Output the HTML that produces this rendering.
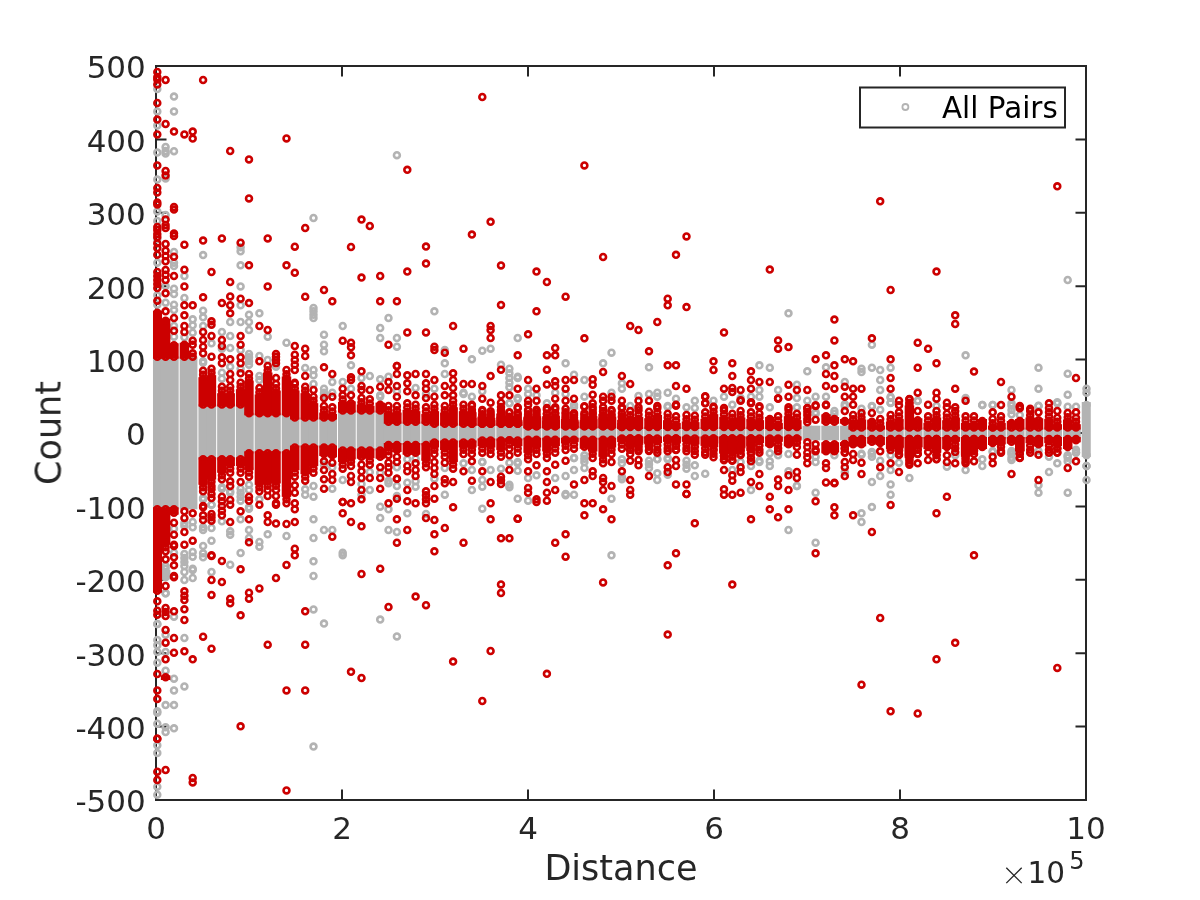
<!DOCTYPE html>
<html><head><meta charset="utf-8"><title>Count vs Distance</title>
<style>html,body{margin:0;padding:0;background:#fff}svg{display:block}</style>
</head><body>
<svg width="1200" height="900" viewBox="0 0 1200 900">
<defs><filter id="soft" x="0" y="0" width="1200" height="900" filterUnits="userSpaceOnUse"><feGaussianBlur stdDeviation="0.55"/></filter></defs>
<rect width="1200" height="900" fill="#fff"/>
<g filter="url(#soft)">
<!-- axes frame (under data) -->
<rect x="156.0" y="66.0" width="930.0" height="734.0" fill="none" stroke="#262626" stroke-width="2"/>
<path d="M156.0 800.0v-10.5M156.0 66.0v10.5" stroke="#262626" stroke-width="2" fill="none"/>
<path d="M342.0 800.0v-10.5M342.0 66.0v10.5" stroke="#262626" stroke-width="2" fill="none"/>
<path d="M528.0 800.0v-10.5M528.0 66.0v10.5" stroke="#262626" stroke-width="2" fill="none"/>
<path d="M714.0 800.0v-10.5M714.0 66.0v10.5" stroke="#262626" stroke-width="2" fill="none"/>
<path d="M900.0 800.0v-10.5M900.0 66.0v10.5" stroke="#262626" stroke-width="2" fill="none"/>
<path d="M1086.0 800.0v-10.5M1086.0 66.0v10.5" stroke="#262626" stroke-width="2" fill="none"/>
<path d="M156.0 800.0h10.5M1086.0 800.0h-10.5" stroke="#262626" stroke-width="2" fill="none"/>
<path d="M156.0 726.6h10.5M1086.0 726.6h-10.5" stroke="#262626" stroke-width="2" fill="none"/>
<path d="M156.0 653.2h10.5M1086.0 653.2h-10.5" stroke="#262626" stroke-width="2" fill="none"/>
<path d="M156.0 579.8h10.5M1086.0 579.8h-10.5" stroke="#262626" stroke-width="2" fill="none"/>
<path d="M156.0 506.4h10.5M1086.0 506.4h-10.5" stroke="#262626" stroke-width="2" fill="none"/>
<path d="M156.0 433.0h10.5M1086.0 433.0h-10.5" stroke="#262626" stroke-width="2" fill="none"/>
<path d="M156.0 359.6h10.5M1086.0 359.6h-10.5" stroke="#262626" stroke-width="2" fill="none"/>
<path d="M156.0 286.2h10.5M1086.0 286.2h-10.5" stroke="#262626" stroke-width="2" fill="none"/>
<path d="M156.0 212.8h10.5M1086.0 212.8h-10.5" stroke="#262626" stroke-width="2" fill="none"/>
<path d="M156.0 139.4h10.5M1086.0 139.4h-10.5" stroke="#262626" stroke-width="2" fill="none"/>
<path d="M156.0 66.0h10.5M1086.0 66.0h-10.5" stroke="#262626" stroke-width="2" fill="none"/>
<!-- data -->
<g><rect x="152.99" y="356.70" width="9.07" height="152.60" fill="#B3B3B3"/><rect x="160.86" y="356.70" width="9.53" height="152.60" fill="#B3B3B3"/><rect x="169.19" y="356.70" width="9.47" height="152.60" fill="#B3B3B3"/><rect x="179.67" y="356.70" width="9.47" height="152.60" fill="#B3B3B3"/><rect x="187.94" y="356.70" width="9.47" height="152.60" fill="#B3B3B3"/><rect x="198.42" y="404.50" width="9.47" height="54.80" fill="#B3B3B3"/><rect x="206.69" y="404.50" width="9.47" height="54.80" fill="#B3B3B3"/><rect x="217.17" y="404.50" width="9.47" height="54.80" fill="#B3B3B3"/><rect x="225.44" y="404.50" width="9.47" height="54.80" fill="#B3B3B3"/><rect x="235.92" y="404.50" width="9.47" height="54.80" fill="#B3B3B3"/><rect x="244.19" y="413.30" width="9.47" height="40.00" fill="#B3B3B3"/><rect x="254.67" y="413.30" width="9.48" height="40.00" fill="#B3B3B3"/><rect x="262.94" y="413.30" width="9.53" height="40.00" fill="#B3B3B3"/><rect x="271.27" y="413.30" width="9.48" height="40.00" fill="#B3B3B3"/><rect x="281.75" y="413.30" width="9.48" height="40.00" fill="#B3B3B3"/><rect x="290.02" y="417.50" width="9.48" height="30.00" fill="#B3B3B3"/><rect x="300.50" y="417.50" width="9.48" height="30.00" fill="#B3B3B3"/><rect x="308.77" y="417.50" width="9.48" height="30.00" fill="#B3B3B3"/><rect x="319.25" y="417.50" width="9.48" height="30.00" fill="#B3B3B3"/><rect x="327.52" y="417.50" width="9.48" height="30.00" fill="#B3B3B3"/><rect x="338.00" y="410.50" width="9.48" height="40.00" fill="#B3B3B3"/><rect x="346.27" y="410.50" width="9.48" height="40.00" fill="#B3B3B3"/><rect x="356.75" y="410.50" width="9.48" height="40.00" fill="#B3B3B3"/><rect x="365.02" y="410.50" width="9.48" height="40.00" fill="#B3B3B3"/><rect x="375.50" y="410.50" width="9.48" height="40.00" fill="#B3B3B3"/><rect x="383.77" y="421.70" width="9.53" height="23.30" fill="#B3B3B3"/><rect x="392.11" y="421.70" width="9.48" height="23.30" fill="#B3B3B3"/><rect x="402.58" y="421.70" width="9.48" height="23.30" fill="#B3B3B3"/><rect x="410.86" y="421.70" width="9.48" height="23.30" fill="#B3B3B3"/><rect x="421.33" y="421.70" width="9.48" height="23.30" fill="#B3B3B3"/><rect x="429.61" y="423.70" width="9.48" height="18.80" fill="#B3B3B3"/><rect x="440.08" y="423.70" width="9.48" height="18.80" fill="#B3B3B3"/><rect x="448.36" y="423.70" width="9.48" height="18.80" fill="#B3B3B3"/><rect x="458.83" y="423.70" width="9.48" height="18.80" fill="#B3B3B3"/><rect x="467.11" y="423.70" width="9.48" height="18.80" fill="#B3B3B3"/><rect x="477.58" y="423.70" width="9.48" height="16.80" fill="#B3B3B3"/><rect x="485.86" y="423.70" width="9.48" height="16.80" fill="#B3B3B3"/><rect x="496.33" y="423.70" width="9.48" height="16.80" fill="#B3B3B3"/><rect x="504.61" y="423.70" width="9.53" height="16.80" fill="#B3B3B3"/><rect x="512.94" y="423.70" width="9.48" height="16.80" fill="#B3B3B3"/><rect x="523.42" y="426.30" width="9.48" height="13.40" fill="#B3B3B3"/><rect x="531.69" y="426.30" width="9.48" height="13.40" fill="#B3B3B3"/><rect x="542.17" y="426.30" width="9.48" height="13.40" fill="#B3B3B3"/><rect x="550.44" y="426.30" width="9.48" height="13.40" fill="#B3B3B3"/><rect x="560.92" y="426.30" width="9.48" height="13.40" fill="#B3B3B3"/><rect x="569.19" y="426.30" width="9.48" height="13.40" fill="#B3B3B3"/><rect x="579.67" y="426.30" width="9.48" height="13.40" fill="#B3B3B3"/><rect x="587.94" y="426.30" width="9.48" height="13.40" fill="#B3B3B3"/><rect x="598.42" y="426.30" width="9.48" height="13.40" fill="#B3B3B3"/><rect x="606.69" y="426.30" width="9.48" height="13.40" fill="#B3B3B3"/><rect x="617.17" y="427.00" width="9.48" height="11.50" fill="#B3B3B3"/><rect x="625.44" y="427.00" width="9.53" height="11.50" fill="#B3B3B3"/><rect x="633.77" y="427.00" width="9.48" height="11.50" fill="#B3B3B3"/><rect x="644.25" y="427.00" width="9.48" height="11.50" fill="#B3B3B3"/><rect x="652.52" y="427.00" width="9.48" height="11.50" fill="#B3B3B3"/><rect x="663.00" y="427.00" width="9.48" height="11.50" fill="#B3B3B3"/><rect x="671.27" y="427.00" width="9.48" height="11.50" fill="#B3B3B3"/><rect x="681.75" y="427.00" width="9.48" height="11.50" fill="#B3B3B3"/><rect x="690.02" y="427.00" width="9.48" height="11.50" fill="#B3B3B3"/><rect x="700.50" y="427.00" width="9.48" height="11.50" fill="#B3B3B3"/><rect x="708.77" y="427.00" width="9.48" height="11.50" fill="#B3B3B3"/><rect x="719.25" y="427.00" width="9.48" height="11.50" fill="#B3B3B3"/><rect x="727.52" y="427.00" width="9.53" height="11.50" fill="#B3B3B3"/><rect x="735.86" y="427.00" width="9.48" height="11.50" fill="#B3B3B3"/><rect x="746.33" y="427.00" width="9.48" height="11.50" fill="#B3B3B3"/><rect x="754.61" y="427.00" width="9.48" height="11.50" fill="#B3B3B3"/><rect x="765.08" y="427.00" width="9.48" height="11.50" fill="#B3B3B3"/><rect x="773.36" y="427.00" width="9.48" height="11.50" fill="#B3B3B3"/><rect x="783.83" y="427.00" width="9.48" height="11.50" fill="#B3B3B3"/><rect x="792.11" y="427.00" width="9.48" height="11.50" fill="#B3B3B3"/><rect x="802.58" y="425.70" width="9.48" height="14.60" fill="#B3B3B3"/><rect x="810.86" y="425.70" width="9.48" height="14.60" fill="#B3B3B3"/><rect x="821.33" y="425.70" width="9.48" height="14.60" fill="#B3B3B3"/><rect x="829.61" y="425.70" width="9.48" height="14.60" fill="#B3B3B3"/><rect x="840.08" y="425.70" width="9.48" height="14.60" fill="#B3B3B3"/><rect x="848.36" y="427.60" width="9.53" height="11.40" fill="#B3B3B3"/><rect x="856.69" y="427.60" width="9.48" height="11.40" fill="#B3B3B3"/><rect x="867.17" y="427.60" width="9.48" height="11.40" fill="#B3B3B3"/><rect x="875.44" y="427.60" width="9.48" height="11.40" fill="#B3B3B3"/><rect x="885.92" y="427.60" width="9.48" height="11.40" fill="#B3B3B3"/><rect x="894.19" y="427.60" width="9.48" height="11.40" fill="#B3B3B3"/><rect x="904.67" y="427.60" width="9.48" height="11.40" fill="#B3B3B3"/><rect x="912.94" y="427.60" width="9.48" height="11.40" fill="#B3B3B3"/><rect x="923.42" y="427.60" width="9.48" height="11.40" fill="#B3B3B3"/><rect x="931.69" y="427.60" width="9.48" height="11.40" fill="#B3B3B3"/><rect x="942.17" y="427.60" width="9.48" height="11.40" fill="#B3B3B3"/><rect x="950.44" y="427.60" width="9.48" height="11.40" fill="#B3B3B3"/><rect x="960.92" y="427.60" width="9.48" height="11.40" fill="#B3B3B3"/><rect x="969.19" y="427.60" width="9.53" height="11.40" fill="#B3B3B3"/><rect x="977.52" y="427.60" width="9.48" height="11.40" fill="#B3B3B3"/><rect x="988.00" y="427.60" width="9.48" height="11.40" fill="#B3B3B3"/><rect x="996.27" y="427.60" width="9.48" height="11.40" fill="#B3B3B3"/><rect x="1006.75" y="427.60" width="9.48" height="11.40" fill="#B3B3B3"/><rect x="1015.02" y="427.60" width="9.48" height="11.40" fill="#B3B3B3"/><rect x="1025.50" y="427.60" width="9.47" height="11.40" fill="#B3B3B3"/><rect x="1033.78" y="427.60" width="9.47" height="11.40" fill="#B3B3B3"/><rect x="1044.25" y="427.60" width="9.47" height="11.40" fill="#B3B3B3"/><rect x="1052.53" y="427.60" width="9.47" height="11.40" fill="#B3B3B3"/><rect x="1063.00" y="427.60" width="9.47" height="11.40" fill="#B3B3B3"/><rect x="1071.28" y="427.60" width="9.47" height="11.40" fill="#B3B3B3"/><rect x="1081.75" y="402.00" width="9.01" height="55.00" fill="#B3B3B3"/><rect x="160.86" y="570.00" width="9.53" height="9.33" fill="#B3B3B3"/></g>
<g fill="none" stroke="#B3B3B3" stroke-width="2.6"><circle cx="157.3" cy="89.0" r="2.95"/><circle cx="157.3" cy="111.4" r="2.95"/><circle cx="157.3" cy="125.6" r="2.95"/><circle cx="157.3" cy="152.6" r="2.95"/><circle cx="157.3" cy="179.6" r="2.95"/><circle cx="157.3" cy="211.4" r="2.95"/><circle cx="157.3" cy="221.0" r="2.95"/><circle cx="157.3" cy="239.0" r="2.95"/><circle cx="165.6" cy="147.0" r="2.95"/><circle cx="165.6" cy="151.0" r="2.95"/><circle cx="165.6" cy="153.6" r="2.95"/><circle cx="165.6" cy="178.4" r="2.95"/><circle cx="165.6" cy="215.0" r="2.95"/><circle cx="174.0" cy="96.6" r="2.95"/><circle cx="174.0" cy="111.4" r="2.95"/><circle cx="174.0" cy="151.2" r="2.95"/><circle cx="313.5" cy="218.0" r="2.95"/><circle cx="396.9" cy="155.2" r="2.95"/><circle cx="157.3" cy="262.7" r="2.95"/><circle cx="157.3" cy="295.3" r="2.95"/><circle cx="157.3" cy="304.7" r="2.95"/><circle cx="165.6" cy="286.0" r="2.95"/><circle cx="165.6" cy="302.7" r="2.95"/><circle cx="174.0" cy="252.0" r="2.95"/><circle cx="174.0" cy="262.7" r="2.95"/><circle cx="174.0" cy="266.0" r="2.95"/><circle cx="174.0" cy="288.7" r="2.95"/><circle cx="174.0" cy="294.0" r="2.95"/><circle cx="174.0" cy="304.7" r="2.95"/><circle cx="174.0" cy="310.0" r="2.95"/><circle cx="174.0" cy="326.0" r="2.95"/><circle cx="174.0" cy="336.7" r="2.95"/><circle cx="184.4" cy="276.0" r="2.95"/><circle cx="184.4" cy="298.0" r="2.95"/><circle cx="184.4" cy="337.3" r="2.95"/><circle cx="192.7" cy="319.3" r="2.95"/><circle cx="192.7" cy="325.3" r="2.95"/><circle cx="192.7" cy="332.7" r="2.95"/><circle cx="203.1" cy="255.1" r="2.95"/><circle cx="203.1" cy="310.7" r="2.95"/><circle cx="203.1" cy="317.3" r="2.95"/><circle cx="203.1" cy="326.0" r="2.95"/><circle cx="211.5" cy="343.3" r="2.95"/><circle cx="221.9" cy="332.0" r="2.95"/><circle cx="221.9" cy="348.7" r="2.95"/><circle cx="230.2" cy="322.0" r="2.95"/><circle cx="230.2" cy="336.0" r="2.95"/><circle cx="230.2" cy="348.0" r="2.95"/><circle cx="240.6" cy="247.3" r="2.95"/><circle cx="240.6" cy="251.3" r="2.95"/><circle cx="240.6" cy="265.3" r="2.95"/><circle cx="240.6" cy="286.4" r="2.95"/><circle cx="240.6" cy="305.3" r="2.95"/><circle cx="240.6" cy="322.0" r="2.95"/><circle cx="249.0" cy="314.7" r="2.95"/><circle cx="249.0" cy="322.0" r="2.95"/><circle cx="249.0" cy="330.0" r="2.95"/><circle cx="259.4" cy="313.3" r="2.95"/><circle cx="267.7" cy="336.7" r="2.95"/><circle cx="286.5" cy="342.7" r="2.95"/><circle cx="230.2" cy="366.7" r="2.95"/><circle cx="240.6" cy="350.0" r="2.95"/><circle cx="240.6" cy="368.7" r="2.95"/><circle cx="249.0" cy="354.0" r="2.95"/><circle cx="249.0" cy="357.3" r="2.95"/><circle cx="249.0" cy="361.3" r="2.95"/><circle cx="249.0" cy="364.7" r="2.95"/><circle cx="259.4" cy="356.0" r="2.95"/><circle cx="267.7" cy="360.0" r="2.95"/><circle cx="276.0" cy="366.7" r="2.95"/><circle cx="305.2" cy="368.0" r="2.95"/><circle cx="174.0" cy="528.7" r="2.95"/><circle cx="174.0" cy="552.7" r="2.95"/><circle cx="192.7" cy="552.0" r="2.95"/><circle cx="192.7" cy="556.7" r="2.95"/><circle cx="192.7" cy="568.7" r="2.95"/><circle cx="203.1" cy="546.0" r="2.95"/><circle cx="203.1" cy="553.3" r="2.95"/><circle cx="203.1" cy="557.3" r="2.95"/><circle cx="211.5" cy="528.0" r="2.95"/><circle cx="211.5" cy="540.7" r="2.95"/><circle cx="221.9" cy="521.3" r="2.95"/><circle cx="230.2" cy="531.3" r="2.95"/><circle cx="230.2" cy="534.7" r="2.95"/><circle cx="230.2" cy="564.7" r="2.95"/><circle cx="240.6" cy="519.3" r="2.95"/><circle cx="240.6" cy="552.9" r="2.95"/><circle cx="249.0" cy="530.0" r="2.95"/><circle cx="249.0" cy="538.0" r="2.95"/><circle cx="259.4" cy="499.3" r="2.95"/><circle cx="259.4" cy="542.0" r="2.95"/><circle cx="259.4" cy="546.7" r="2.95"/><circle cx="267.7" cy="534.3" r="2.95"/><circle cx="286.5" cy="536.0" r="2.95"/><circle cx="305.2" cy="489.3" r="2.95"/><circle cx="305.2" cy="494.7" r="2.95"/><circle cx="313.5" cy="308.0" r="2.95"/><circle cx="313.5" cy="311.3" r="2.95"/><circle cx="313.5" cy="314.7" r="2.95"/><circle cx="313.5" cy="318.0" r="2.95"/><circle cx="313.5" cy="370.0" r="2.95"/><circle cx="313.5" cy="375.3" r="2.95"/><circle cx="313.5" cy="384.0" r="2.95"/><circle cx="324.0" cy="334.7" r="2.95"/><circle cx="324.0" cy="344.7" r="2.95"/><circle cx="324.0" cy="351.3" r="2.95"/><circle cx="324.0" cy="388.7" r="2.95"/><circle cx="332.3" cy="382.0" r="2.95"/><circle cx="332.3" cy="392.7" r="2.95"/><circle cx="342.7" cy="326.0" r="2.95"/><circle cx="342.7" cy="382.0" r="2.95"/><circle cx="351.0" cy="365.3" r="2.95"/><circle cx="351.0" cy="388.7" r="2.95"/><circle cx="361.5" cy="378.0" r="2.95"/><circle cx="369.8" cy="376.0" r="2.95"/><circle cx="380.2" cy="328.0" r="2.95"/><circle cx="380.2" cy="338.0" r="2.95"/><circle cx="380.2" cy="379.3" r="2.95"/><circle cx="388.5" cy="318.0" r="2.95"/><circle cx="388.5" cy="376.7" r="2.95"/><circle cx="396.9" cy="338.0" r="2.95"/><circle cx="396.9" cy="346.7" r="2.95"/><circle cx="396.9" cy="391.3" r="2.95"/><circle cx="415.6" cy="388.0" r="2.95"/><circle cx="426.0" cy="394.0" r="2.95"/><circle cx="434.4" cy="311.3" r="2.95"/><circle cx="434.4" cy="388.7" r="2.95"/><circle cx="444.8" cy="350.0" r="2.95"/><circle cx="444.8" cy="363.3" r="2.95"/><circle cx="444.8" cy="374.0" r="2.95"/><circle cx="471.9" cy="359.3" r="2.95"/><circle cx="471.9" cy="396.7" r="2.95"/><circle cx="482.3" cy="350.7" r="2.95"/><circle cx="482.3" cy="391.3" r="2.95"/><circle cx="490.6" cy="348.7" r="2.95"/><circle cx="501.0" cy="364.7" r="2.95"/><circle cx="517.7" cy="338.0" r="2.95"/><circle cx="528.1" cy="388.7" r="2.95"/><circle cx="528.1" cy="394.0" r="2.95"/><circle cx="536.5" cy="395.3" r="2.95"/><circle cx="546.9" cy="403.3" r="2.95"/><circle cx="555.2" cy="392.7" r="2.95"/><circle cx="565.6" cy="363.3" r="2.95"/><circle cx="565.6" cy="394.0" r="2.95"/><circle cx="574.0" cy="374.7" r="2.95"/><circle cx="584.4" cy="380.0" r="2.95"/><circle cx="584.4" cy="396.7" r="2.95"/><circle cx="603.1" cy="363.3" r="2.95"/><circle cx="611.5" cy="352.7" r="2.95"/><circle cx="611.5" cy="392.7" r="2.95"/><circle cx="621.9" cy="383.3" r="2.95"/><circle cx="621.9" cy="388.7" r="2.95"/><circle cx="630.2" cy="406.0" r="2.95"/><circle cx="638.5" cy="396.0" r="2.95"/><circle cx="649.0" cy="367.3" r="2.95"/><circle cx="649.0" cy="394.0" r="2.95"/><circle cx="657.3" cy="392.7" r="2.95"/><circle cx="657.3" cy="396.7" r="2.95"/><circle cx="667.7" cy="392.7" r="2.95"/><circle cx="667.7" cy="406.0" r="2.95"/><circle cx="676.0" cy="398.7" r="2.95"/><circle cx="686.5" cy="407.3" r="2.95"/><circle cx="694.8" cy="400.7" r="2.95"/><circle cx="694.8" cy="408.0" r="2.95"/><circle cx="713.5" cy="400.7" r="2.95"/><circle cx="724.0" cy="396.7" r="2.95"/><circle cx="732.3" cy="404.7" r="2.95"/><circle cx="740.6" cy="398.0" r="2.95"/><circle cx="751.0" cy="396.7" r="2.95"/><circle cx="759.4" cy="365.3" r="2.95"/><circle cx="759.4" cy="390.0" r="2.95"/><circle cx="759.4" cy="396.7" r="2.95"/><circle cx="769.8" cy="367.7" r="2.95"/><circle cx="769.8" cy="407.3" r="2.95"/><circle cx="778.1" cy="390.0" r="2.95"/><circle cx="788.5" cy="313.3" r="2.95"/><circle cx="796.9" cy="384.7" r="2.95"/><circle cx="796.9" cy="398.0" r="2.95"/><circle cx="796.9" cy="407.3" r="2.95"/><circle cx="807.3" cy="371.3" r="2.95"/><circle cx="807.3" cy="400.7" r="2.95"/><circle cx="815.6" cy="396.7" r="2.95"/><circle cx="826.0" cy="367.3" r="2.95"/><circle cx="826.0" cy="396.7" r="2.95"/><circle cx="844.8" cy="382.0" r="2.95"/><circle cx="844.8" cy="406.0" r="2.95"/><circle cx="861.5" cy="368.7" r="2.95"/><circle cx="861.5" cy="372.0" r="2.95"/><circle cx="861.5" cy="408.7" r="2.95"/><circle cx="871.9" cy="344.7" r="2.95"/><circle cx="871.9" cy="367.7" r="2.95"/><circle cx="871.9" cy="406.0" r="2.95"/><circle cx="880.2" cy="370.0" r="2.95"/><circle cx="880.2" cy="380.0" r="2.95"/><circle cx="880.2" cy="390.0" r="2.95"/><circle cx="890.6" cy="367.7" r="2.95"/><circle cx="890.6" cy="396.7" r="2.95"/><circle cx="890.6" cy="402.7" r="2.95"/><circle cx="917.7" cy="400.7" r="2.95"/><circle cx="936.5" cy="406.0" r="2.95"/><circle cx="965.6" cy="355.3" r="2.95"/><circle cx="965.6" cy="398.0" r="2.95"/><circle cx="982.3" cy="404.9" r="2.95"/><circle cx="992.7" cy="404.9" r="2.95"/><circle cx="1011.5" cy="390.0" r="2.95"/><circle cx="1011.5" cy="403.3" r="2.95"/><circle cx="1038.5" cy="367.7" r="2.95"/><circle cx="1038.5" cy="388.7" r="2.95"/><circle cx="1038.5" cy="406.0" r="2.95"/><circle cx="1057.3" cy="403.3" r="2.95"/><circle cx="1067.7" cy="373.7" r="2.95"/><circle cx="1067.7" cy="394.7" r="2.95"/><circle cx="1067.7" cy="406.7" r="2.95"/><circle cx="1076.0" cy="406.7" r="2.95"/><circle cx="1086.5" cy="388.7" r="2.95"/><circle cx="1086.5" cy="392.7" r="2.95"/><circle cx="1086.5" cy="404.9" r="2.95"/><circle cx="313.5" cy="486.0" r="2.95"/><circle cx="313.5" cy="496.7" r="2.95"/><circle cx="313.5" cy="519.3" r="2.95"/><circle cx="313.5" cy="538.0" r="2.95"/><circle cx="313.5" cy="561.3" r="2.95"/><circle cx="324.0" cy="464.7" r="2.95"/><circle cx="324.0" cy="530.0" r="2.95"/><circle cx="332.3" cy="467.3" r="2.95"/><circle cx="332.3" cy="488.7" r="2.95"/><circle cx="332.3" cy="530.0" r="2.95"/><circle cx="342.7" cy="480.0" r="2.95"/><circle cx="342.7" cy="552.7" r="2.95"/><circle cx="342.7" cy="555.3" r="2.95"/><circle cx="361.5" cy="484.0" r="2.95"/><circle cx="361.5" cy="494.7" r="2.95"/><circle cx="369.8" cy="472.0" r="2.95"/><circle cx="369.8" cy="490.0" r="2.95"/><circle cx="380.2" cy="472.7" r="2.95"/><circle cx="380.2" cy="506.7" r="2.95"/><circle cx="380.2" cy="518.0" r="2.95"/><circle cx="388.5" cy="509.3" r="2.95"/><circle cx="388.5" cy="530.0" r="2.95"/><circle cx="396.9" cy="467.3" r="2.95"/><circle cx="396.9" cy="486.0" r="2.95"/><circle cx="396.9" cy="496.0" r="2.95"/><circle cx="396.9" cy="532.0" r="2.95"/><circle cx="407.3" cy="459.3" r="2.95"/><circle cx="407.3" cy="482.7" r="2.95"/><circle cx="407.3" cy="513.3" r="2.95"/><circle cx="415.6" cy="458.7" r="2.95"/><circle cx="415.6" cy="481.3" r="2.95"/><circle cx="415.6" cy="486.7" r="2.95"/><circle cx="426.0" cy="514.0" r="2.95"/><circle cx="434.4" cy="478.7" r="2.95"/><circle cx="444.8" cy="468.0" r="2.95"/><circle cx="444.8" cy="494.7" r="2.95"/><circle cx="463.5" cy="463.3" r="2.95"/><circle cx="471.9" cy="470.0" r="2.95"/><circle cx="471.9" cy="490.0" r="2.95"/><circle cx="482.3" cy="480.0" r="2.95"/><circle cx="482.3" cy="486.7" r="2.95"/><circle cx="482.3" cy="508.7" r="2.95"/><circle cx="490.6" cy="470.0" r="2.95"/><circle cx="501.0" cy="468.7" r="2.95"/><circle cx="509.4" cy="462.7" r="2.95"/><circle cx="517.7" cy="470.7" r="2.95"/><circle cx="517.7" cy="498.7" r="2.95"/><circle cx="528.1" cy="478.0" r="2.95"/><circle cx="528.1" cy="500.7" r="2.95"/><circle cx="536.5" cy="475.3" r="2.95"/><circle cx="555.2" cy="478.0" r="2.95"/><circle cx="565.6" cy="476.0" r="2.95"/><circle cx="574.0" cy="470.0" r="2.95"/><circle cx="574.0" cy="494.7" r="2.95"/><circle cx="584.4" cy="468.0" r="2.95"/><circle cx="611.5" cy="498.7" r="2.95"/><circle cx="611.5" cy="555.3" r="2.95"/><circle cx="657.3" cy="459.3" r="2.95"/><circle cx="657.3" cy="473.3" r="2.95"/><circle cx="657.3" cy="480.0" r="2.95"/><circle cx="667.7" cy="474.7" r="2.95"/><circle cx="694.8" cy="465.3" r="2.95"/><circle cx="694.8" cy="476.0" r="2.95"/><circle cx="705.2" cy="473.7" r="2.95"/><circle cx="732.3" cy="470.0" r="2.95"/><circle cx="740.6" cy="462.0" r="2.95"/><circle cx="751.0" cy="466.0" r="2.95"/><circle cx="751.0" cy="490.0" r="2.95"/><circle cx="769.8" cy="453.3" r="2.95"/><circle cx="769.8" cy="461.3" r="2.95"/><circle cx="769.8" cy="466.0" r="2.95"/><circle cx="778.1" cy="455.3" r="2.95"/><circle cx="788.5" cy="454.0" r="2.95"/><circle cx="788.5" cy="471.3" r="2.95"/><circle cx="788.5" cy="530.0" r="2.95"/><circle cx="815.6" cy="456.7" r="2.95"/><circle cx="815.6" cy="462.0" r="2.95"/><circle cx="815.6" cy="492.7" r="2.95"/><circle cx="815.6" cy="542.7" r="2.95"/><circle cx="834.4" cy="455.3" r="2.95"/><circle cx="844.8" cy="472.0" r="2.95"/><circle cx="861.5" cy="454.7" r="2.95"/><circle cx="861.5" cy="513.3" r="2.95"/><circle cx="861.5" cy="522.0" r="2.95"/><circle cx="871.9" cy="452.0" r="2.95"/><circle cx="871.9" cy="456.7" r="2.95"/><circle cx="871.9" cy="482.0" r="2.95"/><circle cx="871.9" cy="507.1" r="2.95"/><circle cx="880.2" cy="460.7" r="2.95"/><circle cx="880.2" cy="476.0" r="2.95"/><circle cx="890.6" cy="455.3" r="2.95"/><circle cx="890.6" cy="470.0" r="2.95"/><circle cx="890.6" cy="484.4" r="2.95"/><circle cx="890.6" cy="494.7" r="2.95"/><circle cx="899.0" cy="462.7" r="2.95"/><circle cx="909.4" cy="478.0" r="2.95"/><circle cx="946.9" cy="466.7" r="2.95"/><circle cx="955.2" cy="455.3" r="2.95"/><circle cx="965.6" cy="470.0" r="2.95"/><circle cx="982.3" cy="459.3" r="2.95"/><circle cx="982.3" cy="466.0" r="2.95"/><circle cx="992.7" cy="452.0" r="2.95"/><circle cx="1011.5" cy="452.7" r="2.95"/><circle cx="1011.5" cy="460.0" r="2.95"/><circle cx="1038.5" cy="485.3" r="2.95"/><circle cx="1038.5" cy="492.7" r="2.95"/><circle cx="1049.0" cy="456.7" r="2.95"/><circle cx="1049.0" cy="472.0" r="2.95"/><circle cx="1057.3" cy="463.3" r="2.95"/><circle cx="1067.7" cy="455.3" r="2.95"/><circle cx="1067.7" cy="461.3" r="2.95"/><circle cx="1067.7" cy="492.7" r="2.95"/><circle cx="1076.0" cy="452.7" r="2.95"/><circle cx="1086.5" cy="455.3" r="2.95"/><circle cx="1086.5" cy="480.0" r="2.95"/><circle cx="657.3" cy="459.0" r="2.95"/><circle cx="667.7" cy="407.0" r="2.95"/><circle cx="844.8" cy="404.3" r="2.95"/><circle cx="861.5" cy="453.7" r="2.95"/><circle cx="871.9" cy="406.3" r="2.95"/><circle cx="880.2" cy="409.7" r="2.95"/><circle cx="890.6" cy="397.7" r="2.95"/><circle cx="890.6" cy="403.0" r="2.95"/><circle cx="917.7" cy="401.0" r="2.95"/><circle cx="982.3" cy="405.0" r="2.95"/><circle cx="992.7" cy="405.0" r="2.95"/><circle cx="992.7" cy="451.0" r="2.95"/><circle cx="1019.8" cy="415.0" r="2.95"/><circle cx="1038.5" cy="405.7" r="2.95"/><circle cx="1038.5" cy="451.0" r="2.95"/><circle cx="1057.3" cy="402.3" r="2.95"/><circle cx="1067.7" cy="280.0" r="2.95"/><circle cx="157.3" cy="640.0" r="2.95"/><circle cx="157.3" cy="645.3" r="2.95"/><circle cx="157.3" cy="652.0" r="2.95"/><circle cx="157.3" cy="662.7" r="2.95"/><circle cx="165.6" cy="634.7" r="2.95"/><circle cx="165.6" cy="652.0" r="2.95"/><circle cx="165.6" cy="670.7" r="2.95"/><circle cx="174.0" cy="616.7" r="2.95"/><circle cx="174.0" cy="678.7" r="2.95"/><circle cx="184.4" cy="572.0" r="2.95"/><circle cx="184.4" cy="580.0" r="2.95"/><circle cx="184.4" cy="638.0" r="2.95"/><circle cx="192.7" cy="570.0" r="2.95"/><circle cx="192.7" cy="578.0" r="2.95"/><circle cx="211.5" cy="572.0" r="2.95"/><circle cx="157.3" cy="723.7" r="2.95"/><circle cx="157.3" cy="745.3" r="2.95"/><circle cx="157.3" cy="753.1" r="2.95"/><circle cx="157.3" cy="786.7" r="2.95"/><circle cx="157.3" cy="794.7" r="2.95"/><circle cx="165.6" cy="705.1" r="2.95"/><circle cx="165.6" cy="727.3" r="2.95"/><circle cx="165.6" cy="732.0" r="2.95"/><circle cx="174.0" cy="690.4" r="2.95"/><circle cx="174.0" cy="705.1" r="2.95"/><circle cx="174.0" cy="728.3" r="2.95"/><circle cx="184.4" cy="686.4" r="2.95"/><circle cx="313.5" cy="576.0" r="2.95"/><circle cx="313.5" cy="609.4" r="2.95"/><circle cx="313.5" cy="746.6" r="2.95"/><circle cx="324.0" cy="623.6" r="2.95"/><circle cx="380.2" cy="619.6" r="2.95"/><circle cx="396.9" cy="636.4" r="2.95"/><circle cx="203.1" cy="361.3" r="2.95"/><circle cx="203.1" cy="362.7" r="2.95"/><circle cx="221.9" cy="372.7" r="2.95"/><circle cx="221.9" cy="378.7" r="2.95"/><circle cx="259.4" cy="376.0" r="2.95"/><circle cx="259.4" cy="380.0" r="2.95"/><circle cx="165.6" cy="568.7" r="2.95"/><circle cx="165.6" cy="566.0" r="2.95"/><circle cx="184.4" cy="526.0" r="2.95"/><circle cx="184.4" cy="523.3" r="2.95"/><circle cx="184.4" cy="554.0" r="2.95"/><circle cx="184.4" cy="558.0" r="2.95"/><circle cx="184.4" cy="562.0" r="2.95"/><circle cx="184.4" cy="566.0" r="2.95"/><circle cx="192.7" cy="522.0" r="2.95"/><circle cx="192.7" cy="527.3" r="2.95"/><circle cx="203.1" cy="499.3" r="2.95"/><circle cx="203.1" cy="498.0" r="2.95"/><circle cx="203.1" cy="527.3" r="2.95"/><circle cx="203.1" cy="530.0" r="2.95"/><circle cx="211.5" cy="504.7" r="2.95"/><circle cx="211.5" cy="504.7" r="2.95"/><circle cx="221.9" cy="488.7" r="2.95"/><circle cx="221.9" cy="487.3" r="2.95"/><circle cx="230.2" cy="492.7" r="2.95"/><circle cx="230.2" cy="491.3" r="2.95"/><circle cx="240.6" cy="488.7" r="2.95"/><circle cx="240.6" cy="492.7" r="2.95"/><circle cx="240.6" cy="496.7" r="2.95"/><circle cx="240.6" cy="500.7" r="2.95"/><circle cx="249.0" cy="484.7" r="2.95"/><circle cx="249.0" cy="490.0" r="2.95"/><circle cx="249.0" cy="507.3" r="2.95"/><circle cx="249.0" cy="508.7" r="2.95"/><circle cx="324.0" cy="395.3" r="2.95"/><circle cx="324.0" cy="392.7" r="2.95"/><circle cx="380.2" cy="395.3" r="2.95"/><circle cx="380.2" cy="396.7" r="2.95"/><circle cx="463.5" cy="394.0" r="2.95"/><circle cx="463.5" cy="392.7" r="2.95"/><circle cx="509.4" cy="368.7" r="2.95"/><circle cx="509.4" cy="373.3" r="2.95"/><circle cx="509.4" cy="378.0" r="2.95"/><circle cx="509.4" cy="382.7" r="2.95"/><circle cx="509.4" cy="387.3" r="2.95"/><circle cx="509.4" cy="403.3" r="2.95"/><circle cx="509.4" cy="403.3" r="2.95"/><circle cx="517.7" cy="376.7" r="2.95"/><circle cx="517.7" cy="378.0" r="2.95"/><circle cx="517.7" cy="398.0" r="2.95"/><circle cx="517.7" cy="399.3" r="2.95"/><circle cx="574.0" cy="407.3" r="2.95"/><circle cx="574.0" cy="404.7" r="2.95"/><circle cx="388.5" cy="480.7" r="2.95"/><circle cx="388.5" cy="483.3" r="2.95"/><circle cx="482.3" cy="462.0" r="2.95"/><circle cx="482.3" cy="462.0" r="2.95"/><circle cx="509.4" cy="484.7" r="2.95"/><circle cx="509.4" cy="487.3" r="2.95"/><circle cx="517.7" cy="462.0" r="2.95"/><circle cx="517.7" cy="463.3" r="2.95"/><circle cx="565.6" cy="494.0" r="2.95"/><circle cx="565.6" cy="495.3" r="2.95"/><circle cx="574.0" cy="458.0" r="2.95"/><circle cx="574.0" cy="458.0" r="2.95"/><circle cx="584.4" cy="455.3" r="2.95"/><circle cx="584.4" cy="458.7" r="2.95"/><circle cx="584.4" cy="462.0" r="2.95"/><circle cx="621.9" cy="459.3" r="2.95"/><circle cx="621.9" cy="463.3" r="2.95"/><circle cx="621.9" cy="479.3" r="2.95"/><circle cx="621.9" cy="476.7" r="2.95"/><circle cx="649.0" cy="460.7" r="2.95"/><circle cx="649.0" cy="464.3" r="2.95"/><circle cx="649.0" cy="468.0" r="2.95"/><circle cx="667.7" cy="459.3" r="2.95"/><circle cx="667.7" cy="458.0" r="2.95"/><circle cx="686.5" cy="460.7" r="2.95"/><circle cx="686.5" cy="464.7" r="2.95"/><circle cx="686.5" cy="468.7" r="2.95"/><circle cx="759.4" cy="460.7" r="2.95"/><circle cx="759.4" cy="462.0" r="2.95"/><circle cx="796.9" cy="486.0" r="2.95"/><circle cx="796.9" cy="486.0" r="2.95"/><circle cx="1086.5" cy="466.0" r="2.95"/><circle cx="1086.5" cy="466.0" r="2.95"/><circle cx="815.6" cy="413.7" r="2.95"/><circle cx="815.6" cy="412.3" r="2.95"/><circle cx="834.4" cy="413.7" r="2.95"/><circle cx="834.4" cy="411.0" r="2.95"/><circle cx="871.9" cy="452.3" r="2.95"/><circle cx="871.9" cy="453.7" r="2.95"/><circle cx="1011.5" cy="405.7" r="2.95"/><circle cx="1011.5" cy="410.0" r="2.95"/><circle cx="1011.5" cy="414.3" r="2.95"/><circle cx="1011.5" cy="451.0" r="2.95"/><circle cx="1011.5" cy="454.3" r="2.95"/><circle cx="1011.5" cy="457.7" r="2.95"/><circle cx="1067.7" cy="456.3" r="2.95"/><circle cx="1067.7" cy="457.7" r="2.95"/><circle cx="1076.0" cy="449.7" r="2.95"/><circle cx="1076.0" cy="452.3" r="2.95"/><circle cx="157.3" cy="624.0" r="2.95"/><circle cx="157.3" cy="624.0" r="2.95"/><circle cx="165.6" cy="577.3" r="2.95"/><circle cx="165.6" cy="593.3" r="2.95"/><circle cx="165.6" cy="593.3" r="2.95"/><circle cx="157.3" cy="712.7" r="2.95"/><circle cx="157.3" cy="711.3" r="2.95"/></g>
<g><rect x="152.99" y="310.67" width="9.07" height="39.33" fill="#CC0000"/><rect x="160.86" y="318.67" width="9.53" height="31.33" fill="#CC0000"/><rect x="169.19" y="343.33" width="9.47" height="6.67" fill="#CC0000"/><rect x="179.67" y="342.67" width="9.47" height="7.33" fill="#CC0000"/><rect x="152.99" y="350.00" width="9.07" height="8.70" fill="#CC0000"/><rect x="160.86" y="350.00" width="9.53" height="8.70" fill="#CC0000"/><rect x="169.19" y="350.00" width="9.47" height="8.70" fill="#CC0000"/><rect x="179.67" y="350.00" width="9.47" height="8.70" fill="#CC0000"/><rect x="198.42" y="377.17" width="9.47" height="29.33" fill="#CC0000"/><rect x="206.69" y="375.17" width="9.47" height="31.33" fill="#CC0000"/><rect x="217.17" y="393.17" width="9.47" height="13.33" fill="#CC0000"/><rect x="225.44" y="393.17" width="9.47" height="13.33" fill="#CC0000"/><rect x="235.92" y="389.17" width="9.47" height="17.33" fill="#CC0000"/><rect x="244.19" y="380.50" width="9.47" height="34.80" fill="#CC0000"/><rect x="254.67" y="394.50" width="9.48" height="20.80" fill="#CC0000"/><rect x="262.94" y="372.50" width="9.53" height="42.80" fill="#CC0000"/><rect x="271.27" y="390.50" width="9.48" height="24.80" fill="#CC0000"/><rect x="281.75" y="376.50" width="9.48" height="38.80" fill="#CC0000"/><rect x="290.02" y="390.50" width="9.48" height="29.00" fill="#CC0000"/><rect x="300.50" y="393.17" width="9.48" height="26.33" fill="#CC0000"/><rect x="152.99" y="507.30" width="9.07" height="62.70" fill="#CC0000"/><rect x="160.86" y="507.30" width="9.53" height="37.53" fill="#CC0000"/><rect x="169.19" y="507.30" width="9.47" height="7.37" fill="#CC0000"/><rect x="198.42" y="457.30" width="9.47" height="27.53" fill="#CC0000"/><rect x="206.69" y="457.30" width="9.47" height="22.20" fill="#CC0000"/><rect x="217.17" y="457.30" width="9.47" height="15.53" fill="#CC0000"/><rect x="225.44" y="457.30" width="9.47" height="8.87" fill="#CC0000"/><rect x="235.92" y="457.30" width="9.47" height="8.87" fill="#CC0000"/><rect x="244.19" y="451.30" width="9.47" height="18.87" fill="#CC0000"/><rect x="254.67" y="451.30" width="9.48" height="33.53" fill="#CC0000"/><rect x="262.94" y="451.30" width="9.53" height="32.20" fill="#CC0000"/><rect x="271.27" y="451.30" width="9.48" height="32.20" fill="#CC0000"/><rect x="281.75" y="451.30" width="9.48" height="45.53" fill="#CC0000"/><rect x="290.02" y="445.50" width="9.48" height="24.67" fill="#CC0000"/><rect x="300.50" y="445.50" width="9.48" height="28.67" fill="#CC0000"/><rect x="308.77" y="403.17" width="9.48" height="16.33" fill="#CC0000"/><rect x="319.25" y="412.50" width="9.48" height="7.00" fill="#CC0000"/><rect x="327.52" y="413.83" width="9.48" height="5.67" fill="#CC0000"/><rect x="338.00" y="401.83" width="9.48" height="10.67" fill="#CC0000"/><rect x="346.27" y="401.33" width="9.48" height="11.17" fill="#CC0000"/><rect x="356.75" y="404.50" width="9.48" height="8.00" fill="#CC0000"/><rect x="365.02" y="405.83" width="9.48" height="6.67" fill="#CC0000"/><rect x="375.50" y="402.67" width="9.48" height="9.83" fill="#CC0000"/><rect x="383.77" y="412.50" width="9.53" height="11.20" fill="#CC0000"/><rect x="392.11" y="412.50" width="9.48" height="11.20" fill="#CC0000"/><rect x="402.58" y="409.83" width="9.48" height="13.87" fill="#CC0000"/><rect x="410.86" y="411.17" width="9.48" height="12.53" fill="#CC0000"/><rect x="421.33" y="413.83" width="9.48" height="9.87" fill="#CC0000"/><rect x="429.61" y="411.17" width="9.48" height="14.53" fill="#CC0000"/><rect x="440.08" y="412.50" width="9.48" height="13.20" fill="#CC0000"/><rect x="448.36" y="407.17" width="9.48" height="18.53" fill="#CC0000"/><rect x="458.83" y="411.17" width="9.48" height="14.53" fill="#CC0000"/><rect x="467.11" y="417.83" width="9.48" height="7.87" fill="#CC0000"/><rect x="477.58" y="416.50" width="9.48" height="9.20" fill="#CC0000"/><rect x="485.86" y="417.83" width="9.48" height="7.87" fill="#CC0000"/><rect x="496.33" y="416.50" width="9.48" height="9.20" fill="#CC0000"/><rect x="504.61" y="419.17" width="9.53" height="6.53" fill="#CC0000"/><rect x="512.94" y="419.83" width="9.48" height="5.87" fill="#CC0000"/><rect x="523.42" y="416.50" width="9.48" height="11.80" fill="#CC0000"/><rect x="531.69" y="417.83" width="9.48" height="10.47" fill="#CC0000"/><rect x="542.17" y="420.50" width="9.48" height="7.80" fill="#CC0000"/><rect x="550.44" y="419.83" width="9.48" height="8.47" fill="#CC0000"/><rect x="560.92" y="420.50" width="9.48" height="7.80" fill="#CC0000"/><rect x="569.19" y="419.83" width="9.48" height="8.47" fill="#CC0000"/><rect x="579.67" y="419.83" width="9.48" height="8.47" fill="#CC0000"/><rect x="587.94" y="419.17" width="9.48" height="9.13" fill="#CC0000"/><rect x="598.42" y="413.83" width="9.48" height="14.47" fill="#CC0000"/><rect x="606.69" y="416.50" width="9.48" height="11.80" fill="#CC0000"/><rect x="617.17" y="419.83" width="9.48" height="9.17" fill="#CC0000"/><rect x="308.77" y="445.50" width="9.48" height="20.67" fill="#CC0000"/><rect x="319.25" y="445.50" width="9.48" height="10.50" fill="#CC0000"/><rect x="327.52" y="445.50" width="9.48" height="11.83" fill="#CC0000"/><rect x="338.00" y="448.50" width="9.48" height="13.67" fill="#CC0000"/><rect x="346.27" y="448.50" width="9.48" height="11.00" fill="#CC0000"/><rect x="356.75" y="448.50" width="9.48" height="10.17" fill="#CC0000"/><rect x="365.02" y="448.50" width="9.48" height="9.67" fill="#CC0000"/><rect x="375.50" y="448.50" width="9.48" height="10.17" fill="#CC0000"/><rect x="383.77" y="443.00" width="9.53" height="5.83" fill="#CC0000"/><rect x="392.11" y="443.00" width="9.48" height="9.00" fill="#CC0000"/><rect x="402.58" y="443.00" width="9.48" height="11.67" fill="#CC0000"/><rect x="410.86" y="443.00" width="9.48" height="11.67" fill="#CC0000"/><rect x="421.33" y="443.00" width="9.48" height="17.83" fill="#CC0000"/><rect x="429.61" y="440.50" width="9.48" height="7.00" fill="#CC0000"/><rect x="440.08" y="440.50" width="9.48" height="9.67" fill="#CC0000"/><rect x="448.36" y="440.50" width="9.48" height="21.67" fill="#CC0000"/><rect x="458.83" y="440.50" width="9.48" height="7.00" fill="#CC0000"/><rect x="467.11" y="440.50" width="9.48" height="7.00" fill="#CC0000"/><rect x="477.58" y="438.50" width="9.48" height="7.67" fill="#CC0000"/><rect x="485.86" y="438.50" width="9.48" height="9.00" fill="#CC0000"/><rect x="496.33" y="438.50" width="9.48" height="11.67" fill="#CC0000"/><rect x="504.61" y="438.50" width="9.53" height="3.67" fill="#CC0000"/><rect x="512.94" y="438.50" width="9.48" height="7.67" fill="#CC0000"/><rect x="523.42" y="437.70" width="9.48" height="15.13" fill="#CC0000"/><rect x="531.69" y="437.70" width="9.48" height="9.80" fill="#CC0000"/><rect x="542.17" y="437.70" width="9.48" height="13.80" fill="#CC0000"/><rect x="550.44" y="437.70" width="9.48" height="8.47" fill="#CC0000"/><rect x="560.92" y="437.70" width="9.48" height="5.80" fill="#CC0000"/><rect x="569.19" y="437.70" width="9.48" height="4.47" fill="#CC0000"/><rect x="579.67" y="437.70" width="9.48" height="10.97" fill="#CC0000"/><rect x="587.94" y="437.70" width="9.48" height="13.80" fill="#CC0000"/><rect x="598.42" y="437.70" width="9.48" height="19.13" fill="#CC0000"/><rect x="606.69" y="437.70" width="9.48" height="9.80" fill="#CC0000"/><rect x="617.17" y="436.50" width="9.48" height="5.67" fill="#CC0000"/><rect x="625.44" y="436.50" width="9.53" height="11.00" fill="#CC0000"/><rect x="633.77" y="436.50" width="9.48" height="8.33" fill="#CC0000"/><rect x="644.25" y="436.50" width="9.48" height="7.00" fill="#CC0000"/><rect x="671.27" y="436.50" width="9.48" height="7.00" fill="#CC0000"/><rect x="708.77" y="436.50" width="9.48" height="7.00" fill="#CC0000"/><rect x="719.25" y="436.50" width="9.48" height="16.33" fill="#CC0000"/><rect x="727.52" y="436.50" width="9.53" height="17.67" fill="#CC0000"/><rect x="735.86" y="436.50" width="9.48" height="11.00" fill="#CC0000"/><rect x="746.33" y="436.50" width="9.48" height="9.67" fill="#CC0000"/><rect x="821.33" y="442.30" width="9.48" height="11.03" fill="#CC0000"/><rect x="840.08" y="442.30" width="9.48" height="3.87" fill="#CC0000"/><rect x="894.19" y="437.00" width="9.48" height="10.50" fill="#CC0000"/><rect x="904.67" y="437.00" width="9.48" height="21.17" fill="#CC0000"/><rect x="912.94" y="437.00" width="9.48" height="10.50" fill="#CC0000"/><rect x="931.69" y="437.00" width="9.48" height="15.83" fill="#CC0000"/><rect x="960.92" y="437.00" width="9.48" height="19.83" fill="#CC0000"/><rect x="969.19" y="437.00" width="9.53" height="10.50" fill="#CC0000"/><rect x="1015.02" y="437.00" width="9.48" height="14.50" fill="#CC0000"/><rect x="1052.53" y="437.00" width="9.47" height="9.17" fill="#CC0000"/><rect x="625.44" y="417.50" width="9.53" height="11.50" fill="#CC0000"/><rect x="625.44" y="436.50" width="9.53" height="6.67" fill="#CC0000"/><rect x="633.77" y="416.83" width="9.48" height="12.17" fill="#CC0000"/><rect x="633.77" y="436.50" width="9.48" height="6.67" fill="#CC0000"/><rect x="644.25" y="418.17" width="9.48" height="10.83" fill="#CC0000"/><rect x="644.25" y="436.50" width="9.48" height="8.00" fill="#CC0000"/><rect x="652.52" y="414.83" width="9.48" height="14.17" fill="#CC0000"/><rect x="652.52" y="436.50" width="9.48" height="6.67" fill="#CC0000"/><rect x="663.00" y="420.17" width="9.48" height="8.83" fill="#CC0000"/><rect x="663.00" y="436.50" width="9.48" height="5.33" fill="#CC0000"/><rect x="671.27" y="422.83" width="9.48" height="6.17" fill="#CC0000"/><rect x="671.27" y="436.50" width="9.48" height="6.67" fill="#CC0000"/><rect x="681.75" y="421.50" width="9.48" height="7.50" fill="#CC0000"/><rect x="681.75" y="436.50" width="9.48" height="5.33" fill="#CC0000"/><rect x="690.02" y="422.17" width="9.48" height="6.83" fill="#CC0000"/><rect x="690.02" y="436.50" width="9.48" height="8.00" fill="#CC0000"/><rect x="700.50" y="418.83" width="9.48" height="10.17" fill="#CC0000"/><rect x="700.50" y="436.50" width="9.48" height="9.33" fill="#CC0000"/><rect x="708.77" y="414.17" width="9.48" height="14.83" fill="#CC0000"/><rect x="708.77" y="436.50" width="9.48" height="10.67" fill="#CC0000"/><rect x="719.25" y="416.83" width="9.48" height="12.17" fill="#CC0000"/><rect x="719.25" y="436.50" width="9.48" height="17.33" fill="#CC0000"/><rect x="727.52" y="420.17" width="9.53" height="8.83" fill="#CC0000"/><rect x="727.52" y="436.50" width="9.53" height="17.33" fill="#CC0000"/><rect x="735.86" y="417.50" width="9.48" height="11.50" fill="#CC0000"/><rect x="735.86" y="436.50" width="9.48" height="12.00" fill="#CC0000"/><rect x="746.33" y="418.83" width="9.48" height="10.17" fill="#CC0000"/><rect x="746.33" y="436.50" width="9.48" height="14.67" fill="#CC0000"/><rect x="754.61" y="420.17" width="9.48" height="8.83" fill="#CC0000"/><rect x="754.61" y="436.50" width="9.48" height="6.67" fill="#CC0000"/><rect x="765.08" y="417.00" width="9.48" height="12.00" fill="#CC0000"/><rect x="765.08" y="436.50" width="9.48" height="9.83" fill="#CC0000"/><rect x="773.36" y="422.83" width="9.48" height="6.17" fill="#CC0000"/><rect x="773.36" y="436.50" width="9.48" height="5.33" fill="#CC0000"/><rect x="783.83" y="416.17" width="9.48" height="12.83" fill="#CC0000"/><rect x="783.83" y="436.50" width="9.48" height="9.83" fill="#CC0000"/><rect x="792.11" y="420.17" width="9.48" height="8.83" fill="#CC0000"/><rect x="792.11" y="436.50" width="9.48" height="4.00" fill="#CC0000"/><rect x="821.33" y="414.33" width="9.48" height="9.37" fill="#CC0000"/><rect x="829.61" y="417.00" width="9.48" height="6.70" fill="#CC0000"/><rect x="829.61" y="442.30" width="9.48" height="10.03" fill="#CC0000"/><rect x="840.08" y="419.00" width="9.48" height="4.70" fill="#CC0000"/><rect x="840.08" y="442.30" width="9.48" height="3.53" fill="#CC0000"/><rect x="848.36" y="421.50" width="9.53" height="8.10" fill="#CC0000"/><rect x="848.36" y="437.00" width="9.53" height="9.33" fill="#CC0000"/><rect x="856.69" y="419.50" width="9.48" height="10.10" fill="#CC0000"/><rect x="856.69" y="437.00" width="9.48" height="9.33" fill="#CC0000"/><rect x="867.17" y="419.67" width="9.48" height="9.93" fill="#CC0000"/><rect x="867.17" y="437.00" width="9.48" height="6.67" fill="#CC0000"/><rect x="875.44" y="425.50" width="9.48" height="4.10" fill="#CC0000"/><rect x="875.44" y="437.00" width="9.48" height="8.00" fill="#CC0000"/><rect x="885.92" y="421.50" width="9.48" height="8.10" fill="#CC0000"/><rect x="885.92" y="437.00" width="9.48" height="12.00" fill="#CC0000"/><rect x="894.19" y="418.83" width="9.48" height="10.77" fill="#CC0000"/><rect x="894.19" y="437.00" width="9.48" height="11.50" fill="#CC0000"/><rect x="904.67" y="405.50" width="9.48" height="24.10" fill="#CC0000"/><rect x="904.67" y="437.00" width="9.48" height="19.50" fill="#CC0000"/><rect x="912.94" y="418.33" width="9.48" height="11.27" fill="#CC0000"/><rect x="912.94" y="437.00" width="9.48" height="10.17" fill="#CC0000"/><rect x="923.42" y="422.83" width="9.48" height="6.77" fill="#CC0000"/><rect x="923.42" y="437.00" width="9.48" height="12.00" fill="#CC0000"/><rect x="931.69" y="417.50" width="9.48" height="12.10" fill="#CC0000"/><rect x="931.69" y="437.00" width="9.48" height="15.50" fill="#CC0000"/><rect x="942.17" y="420.17" width="9.48" height="9.43" fill="#CC0000"/><rect x="942.17" y="437.00" width="9.48" height="12.00" fill="#CC0000"/><rect x="950.44" y="417.50" width="9.48" height="12.10" fill="#CC0000"/><rect x="950.44" y="437.00" width="9.48" height="4.83" fill="#CC0000"/><rect x="960.92" y="422.83" width="9.48" height="6.77" fill="#CC0000"/><rect x="960.92" y="437.00" width="9.48" height="18.17" fill="#CC0000"/><rect x="969.19" y="422.83" width="9.53" height="6.77" fill="#CC0000"/><rect x="969.19" y="437.00" width="9.53" height="7.50" fill="#CC0000"/><rect x="977.52" y="419.00" width="9.48" height="10.60" fill="#CC0000"/><rect x="977.52" y="437.00" width="9.48" height="12.00" fill="#CC0000"/><rect x="988.00" y="425.50" width="9.48" height="4.10" fill="#CC0000"/><rect x="988.00" y="437.00" width="9.48" height="8.00" fill="#CC0000"/><rect x="996.27" y="422.83" width="9.48" height="6.77" fill="#CC0000"/><rect x="996.27" y="437.00" width="9.48" height="7.50" fill="#CC0000"/><rect x="1006.75" y="421.00" width="9.48" height="8.60" fill="#CC0000"/><rect x="1006.75" y="437.00" width="9.48" height="6.67" fill="#CC0000"/><rect x="1015.02" y="419.00" width="9.48" height="10.60" fill="#CC0000"/><rect x="1015.02" y="437.00" width="9.48" height="14.17" fill="#CC0000"/><rect x="1025.50" y="417.50" width="9.47" height="12.10" fill="#CC0000"/><rect x="1025.50" y="437.00" width="9.47" height="6.17" fill="#CC0000"/><rect x="1033.78" y="418.33" width="9.47" height="11.27" fill="#CC0000"/><rect x="1033.78" y="437.00" width="9.47" height="9.33" fill="#CC0000"/><rect x="1044.25" y="418.83" width="9.47" height="10.77" fill="#CC0000"/><rect x="1044.25" y="437.00" width="9.47" height="6.17" fill="#CC0000"/><rect x="1052.53" y="424.17" width="9.47" height="5.43" fill="#CC0000"/><rect x="1052.53" y="437.00" width="9.47" height="8.83" fill="#CC0000"/><rect x="1063.00" y="419.50" width="9.47" height="10.10" fill="#CC0000"/><rect x="1063.00" y="437.00" width="9.47" height="12.00" fill="#CC0000"/><rect x="1071.28" y="424.17" width="9.47" height="5.43" fill="#CC0000"/><rect x="1071.28" y="437.00" width="9.47" height="5.33" fill="#CC0000"/><rect x="467.11" y="412.17" width="9.48" height="13.53" fill="#CC0000"/><rect x="477.58" y="417.50" width="9.48" height="8.20" fill="#CC0000"/><rect x="485.86" y="420.17" width="9.48" height="5.53" fill="#CC0000"/><rect x="496.33" y="413.50" width="9.48" height="12.20" fill="#CC0000"/><rect x="504.61" y="415.67" width="9.53" height="10.03" fill="#CC0000"/><rect x="512.94" y="421.50" width="9.48" height="4.20" fill="#CC0000"/><rect x="523.42" y="417.50" width="9.48" height="10.80" fill="#CC0000"/><rect x="531.69" y="416.17" width="9.48" height="12.13" fill="#CC0000"/><rect x="542.17" y="416.17" width="9.48" height="12.13" fill="#CC0000"/><rect x="550.44" y="415.50" width="9.48" height="12.80" fill="#CC0000"/><rect x="560.92" y="418.83" width="9.48" height="9.47" fill="#CC0000"/><rect x="569.19" y="421.50" width="9.48" height="6.80" fill="#CC0000"/><rect x="579.67" y="421.50" width="9.48" height="6.80" fill="#CC0000"/><rect x="587.94" y="416.17" width="9.48" height="12.13" fill="#CC0000"/><rect x="598.42" y="417.50" width="9.48" height="10.80" fill="#CC0000"/><rect x="606.69" y="417.50" width="9.48" height="10.80" fill="#CC0000"/><rect x="617.17" y="422.83" width="9.48" height="6.17" fill="#CC0000"/><rect x="152.99" y="570.00" width="9.07" height="22.67" fill="#CC0000"/><rect x="160.86" y="675.33" width="9.53" height="4.67" fill="#CC0000"/></g>
<g fill="none" stroke="#CC0000" stroke-width="2.6"><circle cx="157.3" cy="72.0" r="2.95"/><circle cx="157.3" cy="77.0" r="2.95"/><circle cx="157.3" cy="79.4" r="2.95"/><circle cx="157.3" cy="84.4" r="2.95"/><circle cx="157.3" cy="103.0" r="2.95"/><circle cx="157.3" cy="119.6" r="2.95"/><circle cx="157.3" cy="134.4" r="2.95"/><circle cx="157.3" cy="165.4" r="2.95"/><circle cx="157.3" cy="188.0" r="2.95"/><circle cx="157.3" cy="192.4" r="2.95"/><circle cx="157.3" cy="202.4" r="2.95"/><circle cx="157.3" cy="204.4" r="2.95"/><circle cx="157.3" cy="227.0" r="2.95"/><circle cx="157.3" cy="230.0" r="2.95"/><circle cx="157.3" cy="234.0" r="2.95"/><circle cx="157.3" cy="237.0" r="2.95"/><circle cx="165.6" cy="80.0" r="2.95"/><circle cx="165.6" cy="124.0" r="2.95"/><circle cx="165.6" cy="171.0" r="2.95"/><circle cx="165.6" cy="175.6" r="2.95"/><circle cx="165.6" cy="219.4" r="2.95"/><circle cx="165.6" cy="225.0" r="2.95"/><circle cx="165.6" cy="228.0" r="2.95"/><circle cx="174.0" cy="131.6" r="2.95"/><circle cx="174.0" cy="207.0" r="2.95"/><circle cx="174.0" cy="209.6" r="2.95"/><circle cx="174.0" cy="233.6" r="2.95"/><circle cx="174.0" cy="236.0" r="2.95"/><circle cx="184.4" cy="134.4" r="2.95"/><circle cx="192.7" cy="131.6" r="2.95"/><circle cx="192.7" cy="138.6" r="2.95"/><circle cx="203.1" cy="80.0" r="2.95"/><circle cx="203.1" cy="240.6" r="2.95"/><circle cx="221.9" cy="238.4" r="2.95"/><circle cx="230.2" cy="151.0" r="2.95"/><circle cx="249.0" cy="159.4" r="2.95"/><circle cx="249.0" cy="198.4" r="2.95"/><circle cx="267.7" cy="238.4" r="2.95"/><circle cx="286.5" cy="138.4" r="2.95"/><circle cx="305.2" cy="228.0" r="2.95"/><circle cx="361.5" cy="219.6" r="2.95"/><circle cx="369.8" cy="226.0" r="2.95"/><circle cx="407.3" cy="169.8" r="2.95"/><circle cx="482.3" cy="97.0" r="2.95"/><circle cx="471.9" cy="234.6" r="2.95"/><circle cx="490.6" cy="221.8" r="2.95"/><circle cx="584.4" cy="165.4" r="2.95"/><circle cx="686.5" cy="236.4" r="2.95"/><circle cx="880.2" cy="201.3" r="2.95"/><circle cx="1057.3" cy="186.3" r="2.95"/><circle cx="157.3" cy="243.3" r="2.95"/><circle cx="157.3" cy="248.0" r="2.95"/><circle cx="157.3" cy="254.7" r="2.95"/><circle cx="157.3" cy="272.0" r="2.95"/><circle cx="157.3" cy="276.0" r="2.95"/><circle cx="157.3" cy="280.0" r="2.95"/><circle cx="157.3" cy="284.0" r="2.95"/><circle cx="157.3" cy="288.0" r="2.95"/><circle cx="157.3" cy="300.7" r="2.95"/><circle cx="165.6" cy="244.0" r="2.95"/><circle cx="165.6" cy="250.7" r="2.95"/><circle cx="165.6" cy="256.0" r="2.95"/><circle cx="165.6" cy="261.3" r="2.95"/><circle cx="165.6" cy="270.0" r="2.95"/><circle cx="165.6" cy="274.7" r="2.95"/><circle cx="165.6" cy="280.0" r="2.95"/><circle cx="165.6" cy="293.3" r="2.95"/><circle cx="165.6" cy="311.3" r="2.95"/><circle cx="174.0" cy="256.7" r="2.95"/><circle cx="174.0" cy="276.0" r="2.95"/><circle cx="174.0" cy="318.0" r="2.95"/><circle cx="174.0" cy="330.7" r="2.95"/><circle cx="184.4" cy="244.7" r="2.95"/><circle cx="184.4" cy="269.7" r="2.95"/><circle cx="184.4" cy="286.4" r="2.95"/><circle cx="184.4" cy="305.3" r="2.95"/><circle cx="184.4" cy="315.3" r="2.95"/><circle cx="184.4" cy="326.0" r="2.95"/><circle cx="184.4" cy="332.0" r="2.95"/><circle cx="192.7" cy="305.3" r="2.95"/><circle cx="192.7" cy="340.7" r="2.95"/><circle cx="192.7" cy="344.7" r="2.95"/><circle cx="203.1" cy="297.3" r="2.95"/><circle cx="203.1" cy="332.0" r="2.95"/><circle cx="203.1" cy="340.0" r="2.95"/><circle cx="203.1" cy="346.7" r="2.95"/><circle cx="211.5" cy="272.0" r="2.95"/><circle cx="211.5" cy="321.3" r="2.95"/><circle cx="211.5" cy="324.7" r="2.95"/><circle cx="211.5" cy="336.0" r="2.95"/><circle cx="221.9" cy="303.1" r="2.95"/><circle cx="221.9" cy="340.0" r="2.95"/><circle cx="221.9" cy="346.0" r="2.95"/><circle cx="230.2" cy="282.0" r="2.95"/><circle cx="230.2" cy="296.4" r="2.95"/><circle cx="230.2" cy="305.3" r="2.95"/><circle cx="230.2" cy="313.3" r="2.95"/><circle cx="240.6" cy="242.7" r="2.95"/><circle cx="240.6" cy="298.7" r="2.95"/><circle cx="240.6" cy="336.0" r="2.95"/><circle cx="240.6" cy="344.7" r="2.95"/><circle cx="249.0" cy="265.3" r="2.95"/><circle cx="249.0" cy="303.1" r="2.95"/><circle cx="259.4" cy="326.0" r="2.95"/><circle cx="267.7" cy="286.4" r="2.95"/><circle cx="267.7" cy="330.0" r="2.95"/><circle cx="286.5" cy="265.3" r="2.95"/><circle cx="294.8" cy="246.7" r="2.95"/><circle cx="294.8" cy="272.7" r="2.95"/><circle cx="294.8" cy="346.0" r="2.95"/><circle cx="305.2" cy="296.7" r="2.95"/><circle cx="305.2" cy="348.7" r="2.95"/><circle cx="192.7" cy="353.3" r="2.95"/><circle cx="192.7" cy="356.7" r="2.95"/><circle cx="203.1" cy="353.3" r="2.95"/><circle cx="211.5" cy="356.7" r="2.95"/><circle cx="221.9" cy="357.3" r="2.95"/><circle cx="221.9" cy="363.3" r="2.95"/><circle cx="230.2" cy="359.3" r="2.95"/><circle cx="230.2" cy="374.0" r="2.95"/><circle cx="230.2" cy="380.0" r="2.95"/><circle cx="240.6" cy="357.3" r="2.95"/><circle cx="240.6" cy="363.3" r="2.95"/><circle cx="240.6" cy="373.3" r="2.95"/><circle cx="259.4" cy="361.3" r="2.95"/><circle cx="276.0" cy="354.0" r="2.95"/><circle cx="276.0" cy="356.7" r="2.95"/><circle cx="276.0" cy="360.0" r="2.95"/><circle cx="276.0" cy="363.3" r="2.95"/><circle cx="276.0" cy="378.0" r="2.95"/><circle cx="294.8" cy="354.7" r="2.95"/><circle cx="294.8" cy="360.0" r="2.95"/><circle cx="294.8" cy="364.7" r="2.95"/><circle cx="294.8" cy="370.0" r="2.95"/><circle cx="294.8" cy="382.7" r="2.95"/><circle cx="305.2" cy="356.0" r="2.95"/><circle cx="305.2" cy="376.0" r="2.95"/><circle cx="165.6" cy="559.3" r="2.95"/><circle cx="174.0" cy="522.7" r="2.95"/><circle cx="174.0" cy="534.7" r="2.95"/><circle cx="174.0" cy="557.3" r="2.95"/><circle cx="174.0" cy="565.3" r="2.95"/><circle cx="184.4" cy="511.3" r="2.95"/><circle cx="184.4" cy="518.0" r="2.95"/><circle cx="184.4" cy="532.0" r="2.95"/><circle cx="184.4" cy="544.7" r="2.95"/><circle cx="192.7" cy="513.3" r="2.95"/><circle cx="192.7" cy="540.7" r="2.95"/><circle cx="203.1" cy="515.3" r="2.95"/><circle cx="203.1" cy="520.0" r="2.95"/><circle cx="211.5" cy="489.3" r="2.95"/><circle cx="211.5" cy="494.0" r="2.95"/><circle cx="211.5" cy="498.0" r="2.95"/><circle cx="221.9" cy="560.9" r="2.95"/><circle cx="230.2" cy="481.3" r="2.95"/><circle cx="230.2" cy="486.0" r="2.95"/><circle cx="230.2" cy="522.0" r="2.95"/><circle cx="240.6" cy="482.0" r="2.95"/><circle cx="240.6" cy="511.3" r="2.95"/><circle cx="240.6" cy="569.3" r="2.95"/><circle cx="249.0" cy="496.7" r="2.95"/><circle cx="249.0" cy="500.7" r="2.95"/><circle cx="249.0" cy="519.3" r="2.95"/><circle cx="249.0" cy="542.3" r="2.95"/><circle cx="259.4" cy="504.7" r="2.95"/><circle cx="267.7" cy="496.0" r="2.95"/><circle cx="267.7" cy="515.3" r="2.95"/><circle cx="267.7" cy="522.0" r="2.95"/><circle cx="276.0" cy="496.0" r="2.95"/><circle cx="276.0" cy="523.6" r="2.95"/><circle cx="286.5" cy="524.0" r="2.95"/><circle cx="286.5" cy="564.9" r="2.95"/><circle cx="294.8" cy="485.3" r="2.95"/><circle cx="294.8" cy="492.7" r="2.95"/><circle cx="294.8" cy="503.3" r="2.95"/><circle cx="294.8" cy="509.3" r="2.95"/><circle cx="294.8" cy="522.0" r="2.95"/><circle cx="294.8" cy="548.7" r="2.95"/><circle cx="294.8" cy="555.3" r="2.95"/><circle cx="313.5" cy="390.0" r="2.95"/><circle cx="324.0" cy="290.0" r="2.95"/><circle cx="324.0" cy="367.3" r="2.95"/><circle cx="324.0" cy="398.0" r="2.95"/><circle cx="332.3" cy="301.3" r="2.95"/><circle cx="332.3" cy="374.0" r="2.95"/><circle cx="332.3" cy="396.7" r="2.95"/><circle cx="342.7" cy="340.7" r="2.95"/><circle cx="342.7" cy="388.7" r="2.95"/><circle cx="351.0" cy="342.7" r="2.95"/><circle cx="351.0" cy="347.3" r="2.95"/><circle cx="351.0" cy="355.3" r="2.95"/><circle cx="351.0" cy="395.3" r="2.95"/><circle cx="361.5" cy="371.3" r="2.95"/><circle cx="361.5" cy="386.0" r="2.95"/><circle cx="361.5" cy="390.0" r="2.95"/><circle cx="369.8" cy="390.0" r="2.95"/><circle cx="380.2" cy="301.3" r="2.95"/><circle cx="380.2" cy="386.7" r="2.95"/><circle cx="388.5" cy="344.7" r="2.95"/><circle cx="388.5" cy="382.0" r="2.95"/><circle cx="388.5" cy="390.0" r="2.95"/><circle cx="396.9" cy="301.3" r="2.95"/><circle cx="396.9" cy="374.0" r="2.95"/><circle cx="396.9" cy="386.0" r="2.95"/><circle cx="396.9" cy="396.7" r="2.95"/><circle cx="407.3" cy="332.4" r="2.95"/><circle cx="407.3" cy="375.3" r="2.95"/><circle cx="407.3" cy="383.3" r="2.95"/><circle cx="407.3" cy="391.3" r="2.95"/><circle cx="415.6" cy="374.0" r="2.95"/><circle cx="415.6" cy="395.3" r="2.95"/><circle cx="426.0" cy="332.4" r="2.95"/><circle cx="426.0" cy="374.0" r="2.95"/><circle cx="426.0" cy="383.3" r="2.95"/><circle cx="426.0" cy="388.7" r="2.95"/><circle cx="426.0" cy="398.0" r="2.95"/><circle cx="434.4" cy="380.0" r="2.95"/><circle cx="434.4" cy="396.7" r="2.95"/><circle cx="444.8" cy="352.7" r="2.95"/><circle cx="444.8" cy="386.0" r="2.95"/><circle cx="444.8" cy="395.3" r="2.95"/><circle cx="453.1" cy="326.0" r="2.95"/><circle cx="453.1" cy="373.3" r="2.95"/><circle cx="453.1" cy="380.0" r="2.95"/><circle cx="453.1" cy="388.0" r="2.95"/><circle cx="453.1" cy="395.3" r="2.95"/><circle cx="463.5" cy="348.7" r="2.95"/><circle cx="463.5" cy="384.0" r="2.95"/><circle cx="471.9" cy="384.0" r="2.95"/><circle cx="471.9" cy="404.7" r="2.95"/><circle cx="482.3" cy="386.0" r="2.95"/><circle cx="482.3" cy="398.7" r="2.95"/><circle cx="490.6" cy="326.0" r="2.95"/><circle cx="490.6" cy="330.0" r="2.95"/><circle cx="490.6" cy="338.0" r="2.95"/><circle cx="490.6" cy="376.0" r="2.95"/><circle cx="490.6" cy="402.7" r="2.95"/><circle cx="501.0" cy="304.9" r="2.95"/><circle cx="501.0" cy="369.7" r="2.95"/><circle cx="501.0" cy="395.3" r="2.95"/><circle cx="501.0" cy="402.7" r="2.95"/><circle cx="509.4" cy="395.3" r="2.95"/><circle cx="517.7" cy="355.3" r="2.95"/><circle cx="517.7" cy="388.7" r="2.95"/><circle cx="517.7" cy="407.3" r="2.95"/><circle cx="528.1" cy="334.3" r="2.95"/><circle cx="528.1" cy="380.0" r="2.95"/><circle cx="528.1" cy="400.7" r="2.95"/><circle cx="528.1" cy="404.7" r="2.95"/><circle cx="536.5" cy="311.3" r="2.95"/><circle cx="536.5" cy="388.7" r="2.95"/><circle cx="536.5" cy="400.7" r="2.95"/><circle cx="546.9" cy="355.3" r="2.95"/><circle cx="546.9" cy="369.7" r="2.95"/><circle cx="546.9" cy="384.4" r="2.95"/><circle cx="546.9" cy="408.0" r="2.95"/><circle cx="555.2" cy="348.0" r="2.95"/><circle cx="555.2" cy="355.3" r="2.95"/><circle cx="555.2" cy="381.3" r="2.95"/><circle cx="555.2" cy="386.0" r="2.95"/><circle cx="555.2" cy="398.7" r="2.95"/><circle cx="555.2" cy="407.3" r="2.95"/><circle cx="565.6" cy="296.7" r="2.95"/><circle cx="565.6" cy="380.0" r="2.95"/><circle cx="565.6" cy="388.7" r="2.95"/><circle cx="565.6" cy="400.7" r="2.95"/><circle cx="565.6" cy="408.7" r="2.95"/><circle cx="574.0" cy="380.0" r="2.95"/><circle cx="574.0" cy="398.7" r="2.95"/><circle cx="584.4" cy="338.3" r="2.95"/><circle cx="584.4" cy="406.7" r="2.95"/><circle cx="592.7" cy="379.3" r="2.95"/><circle cx="592.7" cy="384.7" r="2.95"/><circle cx="592.7" cy="394.7" r="2.95"/><circle cx="592.7" cy="403.3" r="2.95"/><circle cx="592.7" cy="407.3" r="2.95"/><circle cx="603.1" cy="372.0" r="2.95"/><circle cx="603.1" cy="396.7" r="2.95"/><circle cx="603.1" cy="400.7" r="2.95"/><circle cx="611.5" cy="396.7" r="2.95"/><circle cx="611.5" cy="400.7" r="2.95"/><circle cx="621.9" cy="376.0" r="2.95"/><circle cx="621.9" cy="400.7" r="2.95"/><circle cx="621.9" cy="407.3" r="2.95"/><circle cx="630.2" cy="326.0" r="2.95"/><circle cx="630.2" cy="384.0" r="2.95"/><circle cx="638.5" cy="330.0" r="2.95"/><circle cx="638.5" cy="400.7" r="2.95"/><circle cx="638.5" cy="407.3" r="2.95"/><circle cx="649.0" cy="351.3" r="2.95"/><circle cx="649.0" cy="400.7" r="2.95"/><circle cx="657.3" cy="322.0" r="2.95"/><circle cx="657.3" cy="406.0" r="2.95"/><circle cx="667.7" cy="298.7" r="2.95"/><circle cx="667.7" cy="305.3" r="2.95"/><circle cx="667.7" cy="365.3" r="2.95"/><circle cx="676.0" cy="365.3" r="2.95"/><circle cx="676.0" cy="386.0" r="2.95"/><circle cx="676.0" cy="404.7" r="2.95"/><circle cx="686.5" cy="307.1" r="2.95"/><circle cx="686.5" cy="388.7" r="2.95"/><circle cx="705.2" cy="396.7" r="2.95"/><circle cx="705.2" cy="403.3" r="2.95"/><circle cx="713.5" cy="361.3" r="2.95"/><circle cx="713.5" cy="370.0" r="2.95"/><circle cx="713.5" cy="406.7" r="2.95"/><circle cx="724.0" cy="332.4" r="2.95"/><circle cx="724.0" cy="388.7" r="2.95"/><circle cx="724.0" cy="408.0" r="2.95"/><circle cx="732.3" cy="363.3" r="2.95"/><circle cx="732.3" cy="376.0" r="2.95"/><circle cx="732.3" cy="388.0" r="2.95"/><circle cx="732.3" cy="392.0" r="2.95"/><circle cx="740.6" cy="390.0" r="2.95"/><circle cx="740.6" cy="400.7" r="2.95"/><circle cx="751.0" cy="371.3" r="2.95"/><circle cx="751.0" cy="380.0" r="2.95"/><circle cx="751.0" cy="388.7" r="2.95"/><circle cx="751.0" cy="403.3" r="2.95"/><circle cx="759.4" cy="382.0" r="2.95"/><circle cx="759.4" cy="407.3" r="2.95"/><circle cx="769.8" cy="382.0" r="2.95"/><circle cx="778.1" cy="340.4" r="2.95"/><circle cx="778.1" cy="348.7" r="2.95"/><circle cx="778.1" cy="398.7" r="2.95"/><circle cx="788.5" cy="347.1" r="2.95"/><circle cx="788.5" cy="384.7" r="2.95"/><circle cx="788.5" cy="396.7" r="2.95"/><circle cx="788.5" cy="407.3" r="2.95"/><circle cx="796.9" cy="390.0" r="2.95"/><circle cx="807.3" cy="390.0" r="2.95"/><circle cx="807.3" cy="408.0" r="2.95"/><circle cx="815.6" cy="359.3" r="2.95"/><circle cx="826.0" cy="355.3" r="2.95"/><circle cx="826.0" cy="374.0" r="2.95"/><circle cx="826.0" cy="386.0" r="2.95"/><circle cx="834.4" cy="319.6" r="2.95"/><circle cx="834.4" cy="340.4" r="2.95"/><circle cx="834.4" cy="365.3" r="2.95"/><circle cx="834.4" cy="376.0" r="2.95"/><circle cx="834.4" cy="388.7" r="2.95"/><circle cx="844.8" cy="359.3" r="2.95"/><circle cx="844.8" cy="386.7" r="2.95"/><circle cx="844.8" cy="396.7" r="2.95"/><circle cx="853.1" cy="361.3" r="2.95"/><circle cx="853.1" cy="388.7" r="2.95"/><circle cx="853.1" cy="396.7" r="2.95"/><circle cx="853.1" cy="404.7" r="2.95"/><circle cx="861.5" cy="388.7" r="2.95"/><circle cx="871.9" cy="338.3" r="2.95"/><circle cx="880.2" cy="400.7" r="2.95"/><circle cx="890.6" cy="290.0" r="2.95"/><circle cx="890.6" cy="359.3" r="2.95"/><circle cx="890.6" cy="378.0" r="2.95"/><circle cx="890.6" cy="388.7" r="2.95"/><circle cx="899.0" cy="400.7" r="2.95"/><circle cx="899.0" cy="405.3" r="2.95"/><circle cx="917.7" cy="342.7" r="2.95"/><circle cx="917.7" cy="367.7" r="2.95"/><circle cx="917.7" cy="392.7" r="2.95"/><circle cx="928.1" cy="348.7" r="2.95"/><circle cx="928.1" cy="404.7" r="2.95"/><circle cx="936.5" cy="363.3" r="2.95"/><circle cx="936.5" cy="392.7" r="2.95"/><circle cx="936.5" cy="398.7" r="2.95"/><circle cx="946.9" cy="402.7" r="2.95"/><circle cx="946.9" cy="407.3" r="2.95"/><circle cx="955.2" cy="315.3" r="2.95"/><circle cx="955.2" cy="324.0" r="2.95"/><circle cx="955.2" cy="388.7" r="2.95"/><circle cx="955.2" cy="407.3" r="2.95"/><circle cx="965.6" cy="400.7" r="2.95"/><circle cx="974.0" cy="371.6" r="2.95"/><circle cx="1001.0" cy="382.0" r="2.95"/><circle cx="1001.0" cy="404.9" r="2.95"/><circle cx="1011.5" cy="396.7" r="2.95"/><circle cx="1019.8" cy="406.0" r="2.95"/><circle cx="1030.2" cy="408.7" r="2.95"/><circle cx="1049.0" cy="403.3" r="2.95"/><circle cx="1049.0" cy="408.0" r="2.95"/><circle cx="1076.0" cy="378.0" r="2.95"/><circle cx="324.0" cy="461.3" r="2.95"/><circle cx="324.0" cy="470.0" r="2.95"/><circle cx="324.0" cy="479.3" r="2.95"/><circle cx="324.0" cy="488.7" r="2.95"/><circle cx="332.3" cy="462.7" r="2.95"/><circle cx="332.3" cy="474.0" r="2.95"/><circle cx="332.3" cy="480.0" r="2.95"/><circle cx="332.3" cy="536.7" r="2.95"/><circle cx="342.7" cy="513.3" r="2.95"/><circle cx="351.0" cy="476.0" r="2.95"/><circle cx="351.0" cy="482.0" r="2.95"/><circle cx="351.0" cy="503.3" r="2.95"/><circle cx="351.0" cy="522.0" r="2.95"/><circle cx="361.5" cy="464.7" r="2.95"/><circle cx="361.5" cy="471.3" r="2.95"/><circle cx="361.5" cy="478.0" r="2.95"/><circle cx="361.5" cy="490.0" r="2.95"/><circle cx="361.5" cy="499.3" r="2.95"/><circle cx="361.5" cy="526.3" r="2.95"/><circle cx="369.8" cy="478.0" r="2.95"/><circle cx="380.2" cy="467.3" r="2.95"/><circle cx="380.2" cy="478.0" r="2.95"/><circle cx="380.2" cy="488.7" r="2.95"/><circle cx="380.2" cy="568.7" r="2.95"/><circle cx="388.5" cy="462.7" r="2.95"/><circle cx="388.5" cy="467.3" r="2.95"/><circle cx="388.5" cy="472.7" r="2.95"/><circle cx="388.5" cy="503.3" r="2.95"/><circle cx="396.9" cy="456.7" r="2.95"/><circle cx="396.9" cy="462.0" r="2.95"/><circle cx="396.9" cy="498.7" r="2.95"/><circle cx="396.9" cy="519.3" r="2.95"/><circle cx="396.9" cy="542.7" r="2.95"/><circle cx="407.3" cy="490.0" r="2.95"/><circle cx="407.3" cy="501.3" r="2.95"/><circle cx="407.3" cy="530.0" r="2.95"/><circle cx="415.6" cy="463.3" r="2.95"/><circle cx="415.6" cy="470.0" r="2.95"/><circle cx="415.6" cy="476.0" r="2.95"/><circle cx="415.6" cy="503.3" r="2.95"/><circle cx="426.0" cy="518.0" r="2.95"/><circle cx="434.4" cy="462.0" r="2.95"/><circle cx="434.4" cy="468.0" r="2.95"/><circle cx="434.4" cy="474.0" r="2.95"/><circle cx="434.4" cy="486.0" r="2.95"/><circle cx="434.4" cy="498.7" r="2.95"/><circle cx="434.4" cy="520.0" r="2.95"/><circle cx="434.4" cy="534.3" r="2.95"/><circle cx="434.4" cy="551.3" r="2.95"/><circle cx="444.8" cy="462.7" r="2.95"/><circle cx="444.8" cy="528.0" r="2.95"/><circle cx="453.1" cy="482.0" r="2.95"/><circle cx="453.1" cy="507.3" r="2.95"/><circle cx="463.5" cy="471.3" r="2.95"/><circle cx="463.5" cy="542.7" r="2.95"/><circle cx="471.9" cy="461.3" r="2.95"/><circle cx="471.9" cy="480.7" r="2.95"/><circle cx="482.3" cy="471.3" r="2.95"/><circle cx="490.6" cy="482.0" r="2.95"/><circle cx="490.6" cy="503.3" r="2.95"/><circle cx="490.6" cy="519.3" r="2.95"/><circle cx="501.0" cy="538.3" r="2.95"/><circle cx="509.4" cy="455.3" r="2.95"/><circle cx="509.4" cy="470.0" r="2.95"/><circle cx="509.4" cy="538.3" r="2.95"/><circle cx="528.1" cy="471.3" r="2.95"/><circle cx="528.1" cy="488.0" r="2.95"/><circle cx="528.1" cy="492.7" r="2.95"/><circle cx="536.5" cy="465.3" r="2.95"/><circle cx="546.9" cy="471.3" r="2.95"/><circle cx="546.9" cy="482.0" r="2.95"/><circle cx="546.9" cy="492.7" r="2.95"/><circle cx="546.9" cy="500.7" r="2.95"/><circle cx="555.2" cy="464.7" r="2.95"/><circle cx="555.2" cy="490.0" r="2.95"/><circle cx="555.2" cy="542.7" r="2.95"/><circle cx="565.6" cy="460.7" r="2.95"/><circle cx="565.6" cy="534.3" r="2.95"/><circle cx="565.6" cy="556.7" r="2.95"/><circle cx="574.0" cy="484.4" r="2.95"/><circle cx="584.4" cy="480.0" r="2.95"/><circle cx="584.4" cy="503.3" r="2.95"/><circle cx="584.4" cy="515.3" r="2.95"/><circle cx="592.7" cy="471.3" r="2.95"/><circle cx="592.7" cy="476.0" r="2.95"/><circle cx="592.7" cy="503.3" r="2.95"/><circle cx="603.1" cy="478.0" r="2.95"/><circle cx="603.1" cy="482.0" r="2.95"/><circle cx="603.1" cy="490.0" r="2.95"/><circle cx="603.1" cy="509.3" r="2.95"/><circle cx="611.5" cy="462.0" r="2.95"/><circle cx="611.5" cy="486.0" r="2.95"/><circle cx="611.5" cy="519.3" r="2.95"/><circle cx="621.9" cy="471.3" r="2.95"/><circle cx="630.2" cy="460.7" r="2.95"/><circle cx="630.2" cy="480.0" r="2.95"/><circle cx="630.2" cy="490.0" r="2.95"/><circle cx="630.2" cy="494.7" r="2.95"/><circle cx="638.5" cy="460.0" r="2.95"/><circle cx="638.5" cy="465.3" r="2.95"/><circle cx="649.0" cy="476.0" r="2.95"/><circle cx="657.3" cy="452.7" r="2.95"/><circle cx="667.7" cy="451.3" r="2.95"/><circle cx="667.7" cy="467.3" r="2.95"/><circle cx="667.7" cy="472.0" r="2.95"/><circle cx="667.7" cy="565.3" r="2.95"/><circle cx="676.0" cy="460.0" r="2.95"/><circle cx="676.0" cy="466.0" r="2.95"/><circle cx="676.0" cy="484.4" r="2.95"/><circle cx="676.0" cy="553.3" r="2.95"/><circle cx="686.5" cy="451.3" r="2.95"/><circle cx="686.5" cy="484.4" r="2.95"/><circle cx="694.8" cy="454.7" r="2.95"/><circle cx="694.8" cy="523.3" r="2.95"/><circle cx="705.2" cy="454.7" r="2.95"/><circle cx="713.5" cy="457.3" r="2.95"/><circle cx="724.0" cy="470.0" r="2.95"/><circle cx="724.0" cy="489.3" r="2.95"/><circle cx="724.0" cy="494.7" r="2.95"/><circle cx="732.3" cy="475.3" r="2.95"/><circle cx="732.3" cy="480.7" r="2.95"/><circle cx="732.3" cy="494.7" r="2.95"/><circle cx="740.6" cy="467.3" r="2.95"/><circle cx="740.6" cy="472.0" r="2.95"/><circle cx="740.6" cy="492.7" r="2.95"/><circle cx="751.0" cy="461.3" r="2.95"/><circle cx="751.0" cy="482.0" r="2.95"/><circle cx="751.0" cy="519.3" r="2.95"/><circle cx="759.4" cy="452.7" r="2.95"/><circle cx="759.4" cy="474.0" r="2.95"/><circle cx="759.4" cy="486.0" r="2.95"/><circle cx="769.8" cy="496.7" r="2.95"/><circle cx="769.8" cy="509.3" r="2.95"/><circle cx="778.1" cy="451.3" r="2.95"/><circle cx="778.1" cy="479.6" r="2.95"/><circle cx="778.1" cy="486.0" r="2.95"/><circle cx="778.1" cy="517.3" r="2.95"/><circle cx="788.5" cy="475.3" r="2.95"/><circle cx="788.5" cy="490.0" r="2.95"/><circle cx="788.5" cy="509.3" r="2.95"/><circle cx="796.9" cy="454.7" r="2.95"/><circle cx="796.9" cy="472.0" r="2.95"/><circle cx="796.9" cy="478.0" r="2.95"/><circle cx="807.3" cy="452.7" r="2.95"/><circle cx="807.3" cy="457.3" r="2.95"/><circle cx="807.3" cy="463.3" r="2.95"/><circle cx="815.6" cy="451.3" r="2.95"/><circle cx="815.6" cy="501.3" r="2.95"/><circle cx="815.6" cy="553.3" r="2.95"/><circle cx="826.0" cy="463.3" r="2.95"/><circle cx="826.0" cy="468.0" r="2.95"/><circle cx="826.0" cy="482.4" r="2.95"/><circle cx="834.4" cy="451.3" r="2.95"/><circle cx="834.4" cy="507.3" r="2.95"/><circle cx="834.4" cy="515.3" r="2.95"/><circle cx="844.8" cy="462.0" r="2.95"/><circle cx="844.8" cy="467.3" r="2.95"/><circle cx="844.8" cy="476.0" r="2.95"/><circle cx="853.1" cy="454.0" r="2.95"/><circle cx="853.1" cy="460.0" r="2.95"/><circle cx="853.1" cy="515.3" r="2.95"/><circle cx="861.5" cy="462.7" r="2.95"/><circle cx="861.5" cy="474.0" r="2.95"/><circle cx="871.9" cy="532.0" r="2.95"/><circle cx="880.2" cy="451.3" r="2.95"/><circle cx="880.2" cy="467.3" r="2.95"/><circle cx="890.6" cy="450.0" r="2.95"/><circle cx="890.6" cy="463.3" r="2.95"/><circle cx="890.6" cy="504.9" r="2.95"/><circle cx="899.0" cy="472.0" r="2.95"/><circle cx="917.7" cy="463.3" r="2.95"/><circle cx="928.1" cy="452.0" r="2.95"/><circle cx="928.1" cy="460.0" r="2.95"/><circle cx="936.5" cy="513.3" r="2.95"/><circle cx="946.9" cy="455.3" r="2.95"/><circle cx="946.9" cy="462.0" r="2.95"/><circle cx="946.9" cy="496.7" r="2.95"/><circle cx="955.2" cy="452.0" r="2.95"/><circle cx="955.2" cy="463.3" r="2.95"/><circle cx="974.0" cy="461.3" r="2.95"/><circle cx="974.0" cy="555.3" r="2.95"/><circle cx="992.7" cy="456.7" r="2.95"/><circle cx="992.7" cy="463.3" r="2.95"/><circle cx="1001.0" cy="452.7" r="2.95"/><circle cx="1011.5" cy="474.0" r="2.95"/><circle cx="1030.2" cy="452.7" r="2.95"/><circle cx="1038.5" cy="454.7" r="2.95"/><circle cx="1038.5" cy="480.0" r="2.95"/><circle cx="1049.0" cy="452.7" r="2.95"/><circle cx="1067.7" cy="468.0" r="2.95"/><circle cx="1076.0" cy="461.3" r="2.95"/><circle cx="676.0" cy="405.7" r="2.95"/><circle cx="705.2" cy="396.3" r="2.95"/><circle cx="705.2" cy="403.0" r="2.95"/><circle cx="740.6" cy="400.3" r="2.95"/><circle cx="751.0" cy="402.3" r="2.95"/><circle cx="759.4" cy="406.3" r="2.95"/><circle cx="778.1" cy="398.3" r="2.95"/><circle cx="807.3" cy="408.3" r="2.95"/><circle cx="807.3" cy="411.7" r="2.95"/><circle cx="807.3" cy="415.0" r="2.95"/><circle cx="807.3" cy="419.0" r="2.95"/><circle cx="807.3" cy="422.3" r="2.95"/><circle cx="807.3" cy="442.3" r="2.95"/><circle cx="807.3" cy="447.0" r="2.95"/><circle cx="815.6" cy="419.7" r="2.95"/><circle cx="815.6" cy="444.3" r="2.95"/><circle cx="815.6" cy="449.7" r="2.95"/><circle cx="844.8" cy="411.0" r="2.95"/><circle cx="871.9" cy="413.0" r="2.95"/><circle cx="917.7" cy="411.0" r="2.95"/><circle cx="992.7" cy="412.3" r="2.95"/><circle cx="1038.5" cy="412.3" r="2.95"/><circle cx="1057.3" cy="411.0" r="2.95"/><circle cx="1076.0" cy="412.3" r="2.95"/><circle cx="509.4" cy="412.3" r="2.95"/><circle cx="517.7" cy="408.3" r="2.95"/><circle cx="584.4" cy="406.3" r="2.95"/><circle cx="621.9" cy="408.3" r="2.95"/><circle cx="351.0" cy="247.0" r="2.95"/><circle cx="361.5" cy="277.6" r="2.95"/><circle cx="380.2" cy="276.0" r="2.95"/><circle cx="426.0" cy="246.6" r="2.95"/><circle cx="426.0" cy="263.6" r="2.95"/><circle cx="407.3" cy="271.6" r="2.95"/><circle cx="501.0" cy="265.4" r="2.95"/><circle cx="536.5" cy="271.6" r="2.95"/><circle cx="546.9" cy="282.0" r="2.95"/><circle cx="603.1" cy="257.0" r="2.95"/><circle cx="676.0" cy="254.8" r="2.95"/><circle cx="769.8" cy="269.6" r="2.95"/><circle cx="936.5" cy="271.6" r="2.95"/><circle cx="157.3" cy="601.3" r="2.95"/><circle cx="157.3" cy="674.0" r="2.95"/><circle cx="165.6" cy="586.0" r="2.95"/><circle cx="165.6" cy="630.0" r="2.95"/><circle cx="165.6" cy="642.7" r="2.95"/><circle cx="165.6" cy="659.3" r="2.95"/><circle cx="174.0" cy="611.3" r="2.95"/><circle cx="174.0" cy="638.0" r="2.95"/><circle cx="174.0" cy="652.7" r="2.95"/><circle cx="184.4" cy="609.3" r="2.95"/><circle cx="184.4" cy="620.0" r="2.95"/><circle cx="184.4" cy="651.3" r="2.95"/><circle cx="192.7" cy="659.3" r="2.95"/><circle cx="203.1" cy="636.7" r="2.95"/><circle cx="211.5" cy="580.0" r="2.95"/><circle cx="211.5" cy="594.9" r="2.95"/><circle cx="211.5" cy="648.7" r="2.95"/><circle cx="221.9" cy="582.0" r="2.95"/><circle cx="230.2" cy="598.7" r="2.95"/><circle cx="230.2" cy="603.3" r="2.95"/><circle cx="240.6" cy="615.3" r="2.95"/><circle cx="249.0" cy="592.7" r="2.95"/><circle cx="249.0" cy="598.7" r="2.95"/><circle cx="259.4" cy="588.4" r="2.95"/><circle cx="267.7" cy="644.7" r="2.95"/><circle cx="276.0" cy="578.0" r="2.95"/><circle cx="305.2" cy="611.3" r="2.95"/><circle cx="305.2" cy="644.7" r="2.95"/><circle cx="157.3" cy="690.4" r="2.95"/><circle cx="157.3" cy="698.9" r="2.95"/><circle cx="157.3" cy="771.7" r="2.95"/><circle cx="157.3" cy="780.0" r="2.95"/><circle cx="165.6" cy="770.0" r="2.95"/><circle cx="192.7" cy="778.0" r="2.95"/><circle cx="192.7" cy="782.4" r="2.95"/><circle cx="240.6" cy="726.3" r="2.95"/><circle cx="286.5" cy="690.4" r="2.95"/><circle cx="286.5" cy="790.4" r="2.95"/><circle cx="305.2" cy="690.4" r="2.95"/><circle cx="361.5" cy="574.0" r="2.95"/><circle cx="361.5" cy="678.0" r="2.95"/><circle cx="415.6" cy="596.6" r="2.95"/><circle cx="426.0" cy="605.2" r="2.95"/><circle cx="388.5" cy="607.0" r="2.95"/><circle cx="501.0" cy="584.4" r="2.95"/><circle cx="501.0" cy="593.0" r="2.95"/><circle cx="490.6" cy="651.0" r="2.95"/><circle cx="453.1" cy="661.6" r="2.95"/><circle cx="351.0" cy="671.8" r="2.95"/><circle cx="546.9" cy="673.8" r="2.95"/><circle cx="482.3" cy="701.0" r="2.95"/><circle cx="603.1" cy="582.4" r="2.95"/><circle cx="732.3" cy="584.6" r="2.95"/><circle cx="667.7" cy="634.6" r="2.95"/><circle cx="880.2" cy="618.0" r="2.95"/><circle cx="955.2" cy="642.8" r="2.95"/><circle cx="936.5" cy="659.3" r="2.95"/><circle cx="1057.3" cy="667.9" r="2.95"/><circle cx="861.5" cy="684.7" r="2.95"/><circle cx="890.6" cy="711.3" r="2.95"/><circle cx="917.7" cy="713.5" r="2.95"/><circle cx="157.3" cy="312.7" r="2.95"/><circle cx="165.6" cy="320.7" r="2.95"/><circle cx="174.0" cy="345.3" r="2.95"/><circle cx="184.4" cy="344.7" r="2.95"/><circle cx="157.3" cy="356.7" r="2.95"/><circle cx="165.6" cy="356.7" r="2.95"/><circle cx="174.0" cy="356.7" r="2.95"/><circle cx="184.4" cy="356.7" r="2.95"/><circle cx="203.1" cy="370.7" r="2.95"/><circle cx="203.1" cy="374.8" r="2.95"/><circle cx="203.1" cy="379.0" r="2.95"/><circle cx="203.1" cy="404.5" r="2.95"/><circle cx="211.5" cy="368.7" r="2.95"/><circle cx="211.5" cy="372.8" r="2.95"/><circle cx="211.5" cy="377.0" r="2.95"/><circle cx="211.5" cy="404.5" r="2.95"/><circle cx="221.9" cy="386.7" r="2.95"/><circle cx="221.9" cy="390.8" r="2.95"/><circle cx="221.9" cy="395.0" r="2.95"/><circle cx="221.9" cy="404.5" r="2.95"/><circle cx="230.2" cy="386.7" r="2.95"/><circle cx="230.2" cy="390.8" r="2.95"/><circle cx="230.2" cy="395.0" r="2.95"/><circle cx="230.2" cy="404.5" r="2.95"/><circle cx="240.6" cy="382.7" r="2.95"/><circle cx="240.6" cy="386.8" r="2.95"/><circle cx="240.6" cy="391.0" r="2.95"/><circle cx="240.6" cy="404.5" r="2.95"/><circle cx="249.0" cy="374.0" r="2.95"/><circle cx="249.0" cy="378.2" r="2.95"/><circle cx="249.0" cy="382.3" r="2.95"/><circle cx="249.0" cy="413.3" r="2.95"/><circle cx="259.4" cy="388.0" r="2.95"/><circle cx="259.4" cy="392.2" r="2.95"/><circle cx="259.4" cy="396.3" r="2.95"/><circle cx="259.4" cy="413.3" r="2.95"/><circle cx="267.7" cy="366.0" r="2.95"/><circle cx="267.7" cy="370.2" r="2.95"/><circle cx="267.7" cy="374.3" r="2.95"/><circle cx="267.7" cy="413.3" r="2.95"/><circle cx="276.0" cy="384.0" r="2.95"/><circle cx="276.0" cy="388.2" r="2.95"/><circle cx="276.0" cy="392.3" r="2.95"/><circle cx="276.0" cy="413.3" r="2.95"/><circle cx="286.5" cy="370.0" r="2.95"/><circle cx="286.5" cy="374.2" r="2.95"/><circle cx="286.5" cy="378.3" r="2.95"/><circle cx="286.5" cy="413.3" r="2.95"/><circle cx="294.8" cy="384.0" r="2.95"/><circle cx="294.8" cy="388.2" r="2.95"/><circle cx="294.8" cy="392.3" r="2.95"/><circle cx="294.8" cy="417.5" r="2.95"/><circle cx="305.2" cy="386.7" r="2.95"/><circle cx="305.2" cy="390.8" r="2.95"/><circle cx="305.2" cy="395.0" r="2.95"/><circle cx="305.2" cy="417.5" r="2.95"/><circle cx="157.3" cy="509.3" r="2.95"/><circle cx="165.6" cy="551.3" r="2.95"/><circle cx="165.6" cy="547.2" r="2.95"/><circle cx="165.6" cy="543.0" r="2.95"/><circle cx="165.6" cy="509.3" r="2.95"/><circle cx="174.0" cy="509.3" r="2.95"/><circle cx="174.0" cy="512.7" r="2.95"/><circle cx="174.0" cy="544.7" r="2.95"/><circle cx="174.0" cy="546.0" r="2.95"/><circle cx="203.1" cy="491.3" r="2.95"/><circle cx="203.1" cy="487.2" r="2.95"/><circle cx="203.1" cy="483.0" r="2.95"/><circle cx="203.1" cy="459.3" r="2.95"/><circle cx="203.1" cy="506.0" r="2.95"/><circle cx="203.1" cy="507.3" r="2.95"/><circle cx="211.5" cy="486.0" r="2.95"/><circle cx="211.5" cy="481.8" r="2.95"/><circle cx="211.5" cy="477.7" r="2.95"/><circle cx="211.5" cy="459.3" r="2.95"/><circle cx="211.5" cy="514.0" r="2.95"/><circle cx="211.5" cy="517.3" r="2.95"/><circle cx="211.5" cy="520.7" r="2.95"/><circle cx="211.5" cy="556.0" r="2.95"/><circle cx="211.5" cy="555.3" r="2.95"/><circle cx="221.9" cy="479.3" r="2.95"/><circle cx="221.9" cy="475.2" r="2.95"/><circle cx="221.9" cy="471.0" r="2.95"/><circle cx="221.9" cy="459.3" r="2.95"/><circle cx="221.9" cy="496.7" r="2.95"/><circle cx="221.9" cy="501.3" r="2.95"/><circle cx="221.9" cy="506.0" r="2.95"/><circle cx="221.9" cy="510.7" r="2.95"/><circle cx="221.9" cy="515.3" r="2.95"/><circle cx="230.2" cy="472.7" r="2.95"/><circle cx="230.2" cy="468.5" r="2.95"/><circle cx="230.2" cy="464.3" r="2.95"/><circle cx="230.2" cy="459.3" r="2.95"/><circle cx="230.2" cy="500.0" r="2.95"/><circle cx="230.2" cy="504.7" r="2.95"/><circle cx="240.6" cy="472.7" r="2.95"/><circle cx="240.6" cy="468.5" r="2.95"/><circle cx="240.6" cy="464.3" r="2.95"/><circle cx="240.6" cy="459.3" r="2.95"/><circle cx="249.0" cy="476.7" r="2.95"/><circle cx="249.0" cy="472.5" r="2.95"/><circle cx="249.0" cy="468.3" r="2.95"/><circle cx="249.0" cy="453.3" r="2.95"/><circle cx="259.4" cy="491.3" r="2.95"/><circle cx="259.4" cy="487.2" r="2.95"/><circle cx="259.4" cy="483.0" r="2.95"/><circle cx="259.4" cy="453.3" r="2.95"/><circle cx="267.7" cy="490.0" r="2.95"/><circle cx="267.7" cy="485.8" r="2.95"/><circle cx="267.7" cy="481.7" r="2.95"/><circle cx="267.7" cy="453.3" r="2.95"/><circle cx="276.0" cy="490.0" r="2.95"/><circle cx="276.0" cy="485.8" r="2.95"/><circle cx="276.0" cy="481.7" r="2.95"/><circle cx="276.0" cy="453.3" r="2.95"/><circle cx="276.0" cy="504.7" r="2.95"/><circle cx="276.0" cy="503.3" r="2.95"/><circle cx="286.5" cy="503.3" r="2.95"/><circle cx="286.5" cy="499.2" r="2.95"/><circle cx="286.5" cy="495.0" r="2.95"/><circle cx="286.5" cy="453.3" r="2.95"/><circle cx="294.8" cy="476.7" r="2.95"/><circle cx="294.8" cy="472.5" r="2.95"/><circle cx="294.8" cy="468.3" r="2.95"/><circle cx="294.8" cy="447.5" r="2.95"/><circle cx="305.2" cy="480.7" r="2.95"/><circle cx="305.2" cy="476.5" r="2.95"/><circle cx="305.2" cy="472.3" r="2.95"/><circle cx="305.2" cy="447.5" r="2.95"/><circle cx="313.5" cy="396.7" r="2.95"/><circle cx="313.5" cy="400.8" r="2.95"/><circle cx="313.5" cy="405.0" r="2.95"/><circle cx="313.5" cy="417.5" r="2.95"/><circle cx="324.0" cy="406.0" r="2.95"/><circle cx="324.0" cy="410.2" r="2.95"/><circle cx="324.0" cy="414.3" r="2.95"/><circle cx="324.0" cy="417.5" r="2.95"/><circle cx="332.3" cy="407.3" r="2.95"/><circle cx="332.3" cy="411.5" r="2.95"/><circle cx="332.3" cy="415.7" r="2.95"/><circle cx="332.3" cy="417.5" r="2.95"/><circle cx="342.7" cy="395.3" r="2.95"/><circle cx="342.7" cy="399.5" r="2.95"/><circle cx="342.7" cy="403.7" r="2.95"/><circle cx="342.7" cy="410.5" r="2.95"/><circle cx="351.0" cy="377.3" r="2.95"/><circle cx="351.0" cy="380.0" r="2.95"/><circle cx="351.0" cy="403.3" r="2.95"/><circle cx="351.0" cy="410.5" r="2.95"/><circle cx="361.5" cy="398.0" r="2.95"/><circle cx="361.5" cy="402.2" r="2.95"/><circle cx="361.5" cy="406.3" r="2.95"/><circle cx="361.5" cy="410.5" r="2.95"/><circle cx="369.8" cy="399.3" r="2.95"/><circle cx="369.8" cy="403.5" r="2.95"/><circle cx="369.8" cy="407.7" r="2.95"/><circle cx="369.8" cy="410.5" r="2.95"/><circle cx="380.2" cy="404.7" r="2.95"/><circle cx="380.2" cy="410.5" r="2.95"/><circle cx="388.5" cy="406.0" r="2.95"/><circle cx="388.5" cy="410.2" r="2.95"/><circle cx="388.5" cy="414.3" r="2.95"/><circle cx="388.5" cy="421.7" r="2.95"/><circle cx="396.9" cy="366.0" r="2.95"/><circle cx="396.9" cy="366.0" r="2.95"/><circle cx="396.9" cy="406.0" r="2.95"/><circle cx="396.9" cy="410.2" r="2.95"/><circle cx="396.9" cy="414.3" r="2.95"/><circle cx="396.9" cy="421.7" r="2.95"/><circle cx="407.3" cy="403.3" r="2.95"/><circle cx="407.3" cy="407.5" r="2.95"/><circle cx="407.3" cy="411.7" r="2.95"/><circle cx="407.3" cy="421.7" r="2.95"/><circle cx="415.6" cy="404.7" r="2.95"/><circle cx="415.6" cy="408.8" r="2.95"/><circle cx="415.6" cy="413.0" r="2.95"/><circle cx="415.6" cy="421.7" r="2.95"/><circle cx="426.0" cy="407.3" r="2.95"/><circle cx="426.0" cy="411.5" r="2.95"/><circle cx="426.0" cy="415.7" r="2.95"/><circle cx="426.0" cy="421.7" r="2.95"/><circle cx="434.4" cy="346.7" r="2.95"/><circle cx="434.4" cy="350.0" r="2.95"/><circle cx="434.4" cy="404.7" r="2.95"/><circle cx="434.4" cy="408.8" r="2.95"/><circle cx="434.4" cy="413.0" r="2.95"/><circle cx="434.4" cy="423.7" r="2.95"/><circle cx="444.8" cy="406.0" r="2.95"/><circle cx="444.8" cy="410.2" r="2.95"/><circle cx="444.8" cy="414.3" r="2.95"/><circle cx="444.8" cy="423.7" r="2.95"/><circle cx="453.1" cy="400.7" r="2.95"/><circle cx="453.1" cy="404.8" r="2.95"/><circle cx="453.1" cy="409.0" r="2.95"/><circle cx="453.1" cy="423.7" r="2.95"/><circle cx="463.5" cy="404.7" r="2.95"/><circle cx="463.5" cy="408.8" r="2.95"/><circle cx="463.5" cy="413.0" r="2.95"/><circle cx="463.5" cy="423.7" r="2.95"/><circle cx="471.9" cy="411.3" r="2.95"/><circle cx="471.9" cy="415.5" r="2.95"/><circle cx="471.9" cy="419.7" r="2.95"/><circle cx="471.9" cy="423.7" r="2.95"/><circle cx="482.3" cy="410.0" r="2.95"/><circle cx="482.3" cy="414.2" r="2.95"/><circle cx="482.3" cy="418.3" r="2.95"/><circle cx="482.3" cy="423.7" r="2.95"/><circle cx="490.6" cy="411.3" r="2.95"/><circle cx="490.6" cy="415.5" r="2.95"/><circle cx="490.6" cy="419.7" r="2.95"/><circle cx="490.6" cy="423.7" r="2.95"/><circle cx="501.0" cy="410.0" r="2.95"/><circle cx="501.0" cy="414.2" r="2.95"/><circle cx="501.0" cy="418.3" r="2.95"/><circle cx="501.0" cy="423.7" r="2.95"/><circle cx="509.4" cy="412.7" r="2.95"/><circle cx="509.4" cy="416.8" r="2.95"/><circle cx="509.4" cy="421.0" r="2.95"/><circle cx="509.4" cy="423.7" r="2.95"/><circle cx="517.7" cy="413.3" r="2.95"/><circle cx="517.7" cy="417.5" r="2.95"/><circle cx="517.7" cy="421.7" r="2.95"/><circle cx="517.7" cy="423.7" r="2.95"/><circle cx="528.1" cy="410.0" r="2.95"/><circle cx="528.1" cy="414.2" r="2.95"/><circle cx="528.1" cy="418.3" r="2.95"/><circle cx="528.1" cy="426.3" r="2.95"/><circle cx="536.5" cy="411.3" r="2.95"/><circle cx="536.5" cy="415.5" r="2.95"/><circle cx="536.5" cy="419.7" r="2.95"/><circle cx="536.5" cy="426.3" r="2.95"/><circle cx="546.9" cy="414.0" r="2.95"/><circle cx="546.9" cy="418.2" r="2.95"/><circle cx="546.9" cy="422.3" r="2.95"/><circle cx="546.9" cy="426.3" r="2.95"/><circle cx="555.2" cy="413.3" r="2.95"/><circle cx="555.2" cy="417.5" r="2.95"/><circle cx="555.2" cy="421.7" r="2.95"/><circle cx="555.2" cy="426.3" r="2.95"/><circle cx="565.6" cy="414.0" r="2.95"/><circle cx="565.6" cy="418.2" r="2.95"/><circle cx="565.6" cy="422.3" r="2.95"/><circle cx="565.6" cy="426.3" r="2.95"/><circle cx="574.0" cy="413.3" r="2.95"/><circle cx="574.0" cy="417.5" r="2.95"/><circle cx="574.0" cy="421.7" r="2.95"/><circle cx="574.0" cy="426.3" r="2.95"/><circle cx="584.4" cy="413.3" r="2.95"/><circle cx="584.4" cy="417.5" r="2.95"/><circle cx="584.4" cy="421.7" r="2.95"/><circle cx="584.4" cy="426.3" r="2.95"/><circle cx="592.7" cy="412.7" r="2.95"/><circle cx="592.7" cy="416.8" r="2.95"/><circle cx="592.7" cy="421.0" r="2.95"/><circle cx="592.7" cy="426.3" r="2.95"/><circle cx="603.1" cy="407.3" r="2.95"/><circle cx="603.1" cy="411.5" r="2.95"/><circle cx="603.1" cy="415.7" r="2.95"/><circle cx="603.1" cy="426.3" r="2.95"/><circle cx="611.5" cy="410.0" r="2.95"/><circle cx="611.5" cy="414.2" r="2.95"/><circle cx="611.5" cy="418.3" r="2.95"/><circle cx="611.5" cy="426.3" r="2.95"/><circle cx="621.9" cy="413.3" r="2.95"/><circle cx="621.9" cy="417.5" r="2.95"/><circle cx="621.9" cy="421.7" r="2.95"/><circle cx="621.9" cy="427.0" r="2.95"/><circle cx="815.6" cy="406.0" r="2.95"/><circle cx="815.6" cy="405.3" r="2.95"/><circle cx="826.0" cy="404.7" r="2.95"/><circle cx="826.0" cy="405.3" r="2.95"/><circle cx="909.4" cy="399.3" r="2.95"/><circle cx="909.4" cy="402.7" r="2.95"/><circle cx="909.4" cy="406.0" r="2.95"/><circle cx="313.5" cy="472.7" r="2.95"/><circle cx="313.5" cy="468.5" r="2.95"/><circle cx="313.5" cy="464.3" r="2.95"/><circle cx="313.5" cy="447.5" r="2.95"/><circle cx="324.0" cy="447.5" r="2.95"/><circle cx="324.0" cy="454.0" r="2.95"/><circle cx="332.3" cy="447.5" r="2.95"/><circle cx="332.3" cy="455.3" r="2.95"/><circle cx="342.7" cy="468.7" r="2.95"/><circle cx="342.7" cy="464.5" r="2.95"/><circle cx="342.7" cy="460.3" r="2.95"/><circle cx="342.7" cy="450.5" r="2.95"/><circle cx="342.7" cy="502.0" r="2.95"/><circle cx="342.7" cy="502.0" r="2.95"/><circle cx="351.0" cy="466.0" r="2.95"/><circle cx="351.0" cy="461.8" r="2.95"/><circle cx="351.0" cy="457.7" r="2.95"/><circle cx="351.0" cy="450.5" r="2.95"/><circle cx="361.5" cy="450.5" r="2.95"/><circle cx="361.5" cy="456.7" r="2.95"/><circle cx="369.8" cy="464.7" r="2.95"/><circle cx="369.8" cy="460.5" r="2.95"/><circle cx="369.8" cy="456.3" r="2.95"/><circle cx="369.8" cy="450.5" r="2.95"/><circle cx="380.2" cy="450.5" r="2.95"/><circle cx="380.2" cy="456.7" r="2.95"/><circle cx="388.5" cy="455.3" r="2.95"/><circle cx="388.5" cy="451.2" r="2.95"/><circle cx="388.5" cy="447.0" r="2.95"/><circle cx="388.5" cy="445.0" r="2.95"/><circle cx="396.9" cy="445.0" r="2.95"/><circle cx="396.9" cy="450.0" r="2.95"/><circle cx="396.9" cy="478.7" r="2.95"/><circle cx="396.9" cy="478.7" r="2.95"/><circle cx="407.3" cy="445.0" r="2.95"/><circle cx="407.3" cy="452.7" r="2.95"/><circle cx="407.3" cy="466.0" r="2.95"/><circle cx="407.3" cy="471.3" r="2.95"/><circle cx="415.6" cy="445.0" r="2.95"/><circle cx="415.6" cy="452.7" r="2.95"/><circle cx="426.0" cy="467.3" r="2.95"/><circle cx="426.0" cy="463.2" r="2.95"/><circle cx="426.0" cy="459.0" r="2.95"/><circle cx="426.0" cy="445.0" r="2.95"/><circle cx="426.0" cy="491.3" r="2.95"/><circle cx="426.0" cy="495.3" r="2.95"/><circle cx="426.0" cy="499.3" r="2.95"/><circle cx="426.0" cy="503.3" r="2.95"/><circle cx="434.4" cy="454.0" r="2.95"/><circle cx="434.4" cy="449.8" r="2.95"/><circle cx="434.4" cy="445.7" r="2.95"/><circle cx="434.4" cy="442.5" r="2.95"/><circle cx="444.8" cy="456.7" r="2.95"/><circle cx="444.8" cy="452.5" r="2.95"/><circle cx="444.8" cy="448.3" r="2.95"/><circle cx="444.8" cy="442.5" r="2.95"/><circle cx="444.8" cy="479.3" r="2.95"/><circle cx="444.8" cy="483.3" r="2.95"/><circle cx="453.1" cy="468.7" r="2.95"/><circle cx="453.1" cy="464.5" r="2.95"/><circle cx="453.1" cy="460.3" r="2.95"/><circle cx="453.1" cy="442.5" r="2.95"/><circle cx="463.5" cy="454.0" r="2.95"/><circle cx="463.5" cy="449.8" r="2.95"/><circle cx="463.5" cy="445.7" r="2.95"/><circle cx="463.5" cy="442.5" r="2.95"/><circle cx="471.9" cy="454.0" r="2.95"/><circle cx="471.9" cy="449.8" r="2.95"/><circle cx="471.9" cy="445.7" r="2.95"/><circle cx="471.9" cy="442.5" r="2.95"/><circle cx="482.3" cy="452.7" r="2.95"/><circle cx="482.3" cy="448.5" r="2.95"/><circle cx="482.3" cy="444.3" r="2.95"/><circle cx="482.3" cy="440.5" r="2.95"/><circle cx="490.6" cy="454.0" r="2.95"/><circle cx="490.6" cy="449.8" r="2.95"/><circle cx="490.6" cy="445.7" r="2.95"/><circle cx="490.6" cy="440.5" r="2.95"/><circle cx="501.0" cy="456.7" r="2.95"/><circle cx="501.0" cy="452.5" r="2.95"/><circle cx="501.0" cy="448.3" r="2.95"/><circle cx="501.0" cy="440.5" r="2.95"/><circle cx="501.0" cy="476.7" r="2.95"/><circle cx="501.0" cy="480.3" r="2.95"/><circle cx="501.0" cy="484.0" r="2.95"/><circle cx="509.4" cy="448.7" r="2.95"/><circle cx="509.4" cy="444.5" r="2.95"/><circle cx="509.4" cy="440.3" r="2.95"/><circle cx="509.4" cy="440.5" r="2.95"/><circle cx="517.7" cy="452.7" r="2.95"/><circle cx="517.7" cy="448.5" r="2.95"/><circle cx="517.7" cy="444.3" r="2.95"/><circle cx="517.7" cy="440.5" r="2.95"/><circle cx="517.7" cy="518.7" r="2.95"/><circle cx="517.7" cy="518.7" r="2.95"/><circle cx="528.1" cy="459.3" r="2.95"/><circle cx="528.1" cy="455.2" r="2.95"/><circle cx="528.1" cy="451.0" r="2.95"/><circle cx="528.1" cy="439.7" r="2.95"/><circle cx="536.5" cy="454.0" r="2.95"/><circle cx="536.5" cy="449.8" r="2.95"/><circle cx="536.5" cy="445.7" r="2.95"/><circle cx="536.5" cy="439.7" r="2.95"/><circle cx="536.5" cy="499.3" r="2.95"/><circle cx="536.5" cy="502.0" r="2.95"/><circle cx="546.9" cy="458.0" r="2.95"/><circle cx="546.9" cy="453.8" r="2.95"/><circle cx="546.9" cy="449.7" r="2.95"/><circle cx="546.9" cy="439.7" r="2.95"/><circle cx="555.2" cy="452.7" r="2.95"/><circle cx="555.2" cy="448.5" r="2.95"/><circle cx="555.2" cy="444.3" r="2.95"/><circle cx="555.2" cy="439.7" r="2.95"/><circle cx="565.6" cy="450.0" r="2.95"/><circle cx="565.6" cy="445.8" r="2.95"/><circle cx="565.6" cy="441.7" r="2.95"/><circle cx="565.6" cy="439.7" r="2.95"/><circle cx="574.0" cy="448.7" r="2.95"/><circle cx="574.0" cy="444.5" r="2.95"/><circle cx="574.0" cy="440.3" r="2.95"/><circle cx="574.0" cy="439.7" r="2.95"/><circle cx="584.4" cy="439.7" r="2.95"/><circle cx="584.4" cy="446.7" r="2.95"/><circle cx="592.7" cy="458.0" r="2.95"/><circle cx="592.7" cy="453.8" r="2.95"/><circle cx="592.7" cy="449.7" r="2.95"/><circle cx="592.7" cy="439.7" r="2.95"/><circle cx="603.1" cy="463.3" r="2.95"/><circle cx="603.1" cy="459.2" r="2.95"/><circle cx="603.1" cy="455.0" r="2.95"/><circle cx="603.1" cy="439.7" r="2.95"/><circle cx="611.5" cy="454.0" r="2.95"/><circle cx="611.5" cy="449.8" r="2.95"/><circle cx="611.5" cy="445.7" r="2.95"/><circle cx="611.5" cy="439.7" r="2.95"/><circle cx="621.9" cy="448.7" r="2.95"/><circle cx="621.9" cy="444.5" r="2.95"/><circle cx="621.9" cy="440.3" r="2.95"/><circle cx="621.9" cy="438.5" r="2.95"/><circle cx="630.2" cy="454.0" r="2.95"/><circle cx="630.2" cy="449.8" r="2.95"/><circle cx="630.2" cy="445.7" r="2.95"/><circle cx="630.2" cy="438.5" r="2.95"/><circle cx="638.5" cy="451.3" r="2.95"/><circle cx="638.5" cy="447.2" r="2.95"/><circle cx="638.5" cy="443.0" r="2.95"/><circle cx="638.5" cy="438.5" r="2.95"/><circle cx="649.0" cy="450.0" r="2.95"/><circle cx="649.0" cy="445.8" r="2.95"/><circle cx="649.0" cy="441.7" r="2.95"/><circle cx="649.0" cy="438.5" r="2.95"/><circle cx="676.0" cy="450.0" r="2.95"/><circle cx="676.0" cy="445.8" r="2.95"/><circle cx="676.0" cy="441.7" r="2.95"/><circle cx="676.0" cy="438.5" r="2.95"/><circle cx="686.5" cy="494.0" r="2.95"/><circle cx="686.5" cy="494.0" r="2.95"/><circle cx="713.5" cy="450.0" r="2.95"/><circle cx="713.5" cy="445.8" r="2.95"/><circle cx="713.5" cy="441.7" r="2.95"/><circle cx="713.5" cy="438.5" r="2.95"/><circle cx="724.0" cy="459.3" r="2.95"/><circle cx="724.0" cy="455.2" r="2.95"/><circle cx="724.0" cy="451.0" r="2.95"/><circle cx="724.0" cy="438.5" r="2.95"/><circle cx="732.3" cy="460.7" r="2.95"/><circle cx="732.3" cy="456.5" r="2.95"/><circle cx="732.3" cy="452.3" r="2.95"/><circle cx="732.3" cy="438.5" r="2.95"/><circle cx="740.6" cy="454.0" r="2.95"/><circle cx="740.6" cy="449.8" r="2.95"/><circle cx="740.6" cy="445.7" r="2.95"/><circle cx="740.6" cy="438.5" r="2.95"/><circle cx="751.0" cy="452.7" r="2.95"/><circle cx="751.0" cy="448.5" r="2.95"/><circle cx="751.0" cy="444.3" r="2.95"/><circle cx="751.0" cy="438.5" r="2.95"/><circle cx="826.0" cy="444.3" r="2.95"/><circle cx="826.0" cy="451.3" r="2.95"/><circle cx="834.4" cy="482.7" r="2.95"/><circle cx="834.4" cy="483.3" r="2.95"/><circle cx="844.8" cy="452.7" r="2.95"/><circle cx="844.8" cy="448.5" r="2.95"/><circle cx="844.8" cy="444.3" r="2.95"/><circle cx="844.8" cy="444.3" r="2.95"/><circle cx="899.0" cy="454.0" r="2.95"/><circle cx="899.0" cy="449.8" r="2.95"/><circle cx="899.0" cy="445.7" r="2.95"/><circle cx="899.0" cy="439.0" r="2.95"/><circle cx="909.4" cy="464.7" r="2.95"/><circle cx="909.4" cy="460.5" r="2.95"/><circle cx="909.4" cy="456.3" r="2.95"/><circle cx="909.4" cy="439.0" r="2.95"/><circle cx="917.7" cy="454.0" r="2.95"/><circle cx="917.7" cy="449.8" r="2.95"/><circle cx="917.7" cy="445.7" r="2.95"/><circle cx="917.7" cy="439.0" r="2.95"/><circle cx="936.5" cy="459.3" r="2.95"/><circle cx="936.5" cy="455.2" r="2.95"/><circle cx="936.5" cy="451.0" r="2.95"/><circle cx="936.5" cy="439.0" r="2.95"/><circle cx="965.6" cy="463.3" r="2.95"/><circle cx="965.6" cy="459.2" r="2.95"/><circle cx="965.6" cy="455.0" r="2.95"/><circle cx="965.6" cy="439.0" r="2.95"/><circle cx="974.0" cy="454.0" r="2.95"/><circle cx="974.0" cy="449.8" r="2.95"/><circle cx="974.0" cy="445.7" r="2.95"/><circle cx="974.0" cy="439.0" r="2.95"/><circle cx="1019.8" cy="458.0" r="2.95"/><circle cx="1019.8" cy="453.8" r="2.95"/><circle cx="1019.8" cy="449.7" r="2.95"/><circle cx="1019.8" cy="439.0" r="2.95"/><circle cx="1057.3" cy="452.7" r="2.95"/><circle cx="1057.3" cy="448.5" r="2.95"/><circle cx="1057.3" cy="444.3" r="2.95"/><circle cx="1057.3" cy="439.0" r="2.95"/><circle cx="630.2" cy="411.0" r="2.95"/><circle cx="630.2" cy="415.2" r="2.95"/><circle cx="630.2" cy="419.3" r="2.95"/><circle cx="630.2" cy="427.0" r="2.95"/><circle cx="630.2" cy="449.7" r="2.95"/><circle cx="630.2" cy="445.5" r="2.95"/><circle cx="630.2" cy="441.3" r="2.95"/><circle cx="630.2" cy="438.5" r="2.95"/><circle cx="638.5" cy="410.3" r="2.95"/><circle cx="638.5" cy="414.5" r="2.95"/><circle cx="638.5" cy="418.7" r="2.95"/><circle cx="638.5" cy="427.0" r="2.95"/><circle cx="638.5" cy="449.7" r="2.95"/><circle cx="638.5" cy="445.5" r="2.95"/><circle cx="638.5" cy="441.3" r="2.95"/><circle cx="638.5" cy="438.5" r="2.95"/><circle cx="649.0" cy="411.7" r="2.95"/><circle cx="649.0" cy="415.8" r="2.95"/><circle cx="649.0" cy="420.0" r="2.95"/><circle cx="649.0" cy="427.0" r="2.95"/><circle cx="649.0" cy="451.0" r="2.95"/><circle cx="649.0" cy="446.8" r="2.95"/><circle cx="649.0" cy="442.7" r="2.95"/><circle cx="649.0" cy="438.5" r="2.95"/><circle cx="657.3" cy="408.3" r="2.95"/><circle cx="657.3" cy="412.5" r="2.95"/><circle cx="657.3" cy="416.7" r="2.95"/><circle cx="657.3" cy="427.0" r="2.95"/><circle cx="657.3" cy="449.7" r="2.95"/><circle cx="657.3" cy="445.5" r="2.95"/><circle cx="657.3" cy="441.3" r="2.95"/><circle cx="657.3" cy="438.5" r="2.95"/><circle cx="667.7" cy="413.7" r="2.95"/><circle cx="667.7" cy="417.8" r="2.95"/><circle cx="667.7" cy="422.0" r="2.95"/><circle cx="667.7" cy="427.0" r="2.95"/><circle cx="667.7" cy="448.3" r="2.95"/><circle cx="667.7" cy="444.2" r="2.95"/><circle cx="667.7" cy="440.0" r="2.95"/><circle cx="667.7" cy="438.5" r="2.95"/><circle cx="676.0" cy="416.3" r="2.95"/><circle cx="676.0" cy="420.5" r="2.95"/><circle cx="676.0" cy="424.7" r="2.95"/><circle cx="676.0" cy="427.0" r="2.95"/><circle cx="676.0" cy="449.7" r="2.95"/><circle cx="676.0" cy="445.5" r="2.95"/><circle cx="676.0" cy="441.3" r="2.95"/><circle cx="676.0" cy="438.5" r="2.95"/><circle cx="686.5" cy="415.0" r="2.95"/><circle cx="686.5" cy="419.2" r="2.95"/><circle cx="686.5" cy="423.3" r="2.95"/><circle cx="686.5" cy="427.0" r="2.95"/><circle cx="686.5" cy="448.3" r="2.95"/><circle cx="686.5" cy="444.2" r="2.95"/><circle cx="686.5" cy="440.0" r="2.95"/><circle cx="686.5" cy="438.5" r="2.95"/><circle cx="694.8" cy="415.7" r="2.95"/><circle cx="694.8" cy="419.8" r="2.95"/><circle cx="694.8" cy="424.0" r="2.95"/><circle cx="694.8" cy="427.0" r="2.95"/><circle cx="694.8" cy="451.0" r="2.95"/><circle cx="694.8" cy="446.8" r="2.95"/><circle cx="694.8" cy="442.7" r="2.95"/><circle cx="694.8" cy="438.5" r="2.95"/><circle cx="705.2" cy="412.3" r="2.95"/><circle cx="705.2" cy="416.5" r="2.95"/><circle cx="705.2" cy="420.7" r="2.95"/><circle cx="705.2" cy="427.0" r="2.95"/><circle cx="705.2" cy="452.3" r="2.95"/><circle cx="705.2" cy="448.2" r="2.95"/><circle cx="705.2" cy="444.0" r="2.95"/><circle cx="705.2" cy="438.5" r="2.95"/><circle cx="713.5" cy="407.7" r="2.95"/><circle cx="713.5" cy="411.8" r="2.95"/><circle cx="713.5" cy="416.0" r="2.95"/><circle cx="713.5" cy="427.0" r="2.95"/><circle cx="713.5" cy="453.7" r="2.95"/><circle cx="713.5" cy="449.5" r="2.95"/><circle cx="713.5" cy="445.3" r="2.95"/><circle cx="713.5" cy="438.5" r="2.95"/><circle cx="724.0" cy="410.3" r="2.95"/><circle cx="724.0" cy="414.5" r="2.95"/><circle cx="724.0" cy="418.7" r="2.95"/><circle cx="724.0" cy="427.0" r="2.95"/><circle cx="724.0" cy="460.3" r="2.95"/><circle cx="724.0" cy="456.2" r="2.95"/><circle cx="724.0" cy="452.0" r="2.95"/><circle cx="724.0" cy="438.5" r="2.95"/><circle cx="732.3" cy="413.7" r="2.95"/><circle cx="732.3" cy="417.8" r="2.95"/><circle cx="732.3" cy="422.0" r="2.95"/><circle cx="732.3" cy="427.0" r="2.95"/><circle cx="732.3" cy="460.3" r="2.95"/><circle cx="732.3" cy="456.2" r="2.95"/><circle cx="732.3" cy="452.0" r="2.95"/><circle cx="732.3" cy="438.5" r="2.95"/><circle cx="740.6" cy="411.0" r="2.95"/><circle cx="740.6" cy="415.2" r="2.95"/><circle cx="740.6" cy="419.3" r="2.95"/><circle cx="740.6" cy="427.0" r="2.95"/><circle cx="740.6" cy="455.0" r="2.95"/><circle cx="740.6" cy="450.8" r="2.95"/><circle cx="740.6" cy="446.7" r="2.95"/><circle cx="740.6" cy="438.5" r="2.95"/><circle cx="751.0" cy="412.3" r="2.95"/><circle cx="751.0" cy="416.5" r="2.95"/><circle cx="751.0" cy="420.7" r="2.95"/><circle cx="751.0" cy="427.0" r="2.95"/><circle cx="751.0" cy="457.7" r="2.95"/><circle cx="751.0" cy="453.5" r="2.95"/><circle cx="751.0" cy="449.3" r="2.95"/><circle cx="751.0" cy="438.5" r="2.95"/><circle cx="759.4" cy="413.7" r="2.95"/><circle cx="759.4" cy="417.8" r="2.95"/><circle cx="759.4" cy="422.0" r="2.95"/><circle cx="759.4" cy="427.0" r="2.95"/><circle cx="759.4" cy="449.7" r="2.95"/><circle cx="759.4" cy="445.5" r="2.95"/><circle cx="759.4" cy="441.3" r="2.95"/><circle cx="759.4" cy="438.5" r="2.95"/><circle cx="769.8" cy="419.0" r="2.95"/><circle cx="769.8" cy="427.0" r="2.95"/><circle cx="769.8" cy="438.5" r="2.95"/><circle cx="769.8" cy="444.3" r="2.95"/><circle cx="778.1" cy="416.3" r="2.95"/><circle cx="778.1" cy="420.5" r="2.95"/><circle cx="778.1" cy="424.7" r="2.95"/><circle cx="778.1" cy="427.0" r="2.95"/><circle cx="778.1" cy="448.3" r="2.95"/><circle cx="778.1" cy="444.2" r="2.95"/><circle cx="778.1" cy="440.0" r="2.95"/><circle cx="778.1" cy="438.5" r="2.95"/><circle cx="788.5" cy="409.7" r="2.95"/><circle cx="788.5" cy="413.8" r="2.95"/><circle cx="788.5" cy="418.0" r="2.95"/><circle cx="788.5" cy="427.0" r="2.95"/><circle cx="788.5" cy="438.5" r="2.95"/><circle cx="788.5" cy="444.3" r="2.95"/><circle cx="796.9" cy="413.7" r="2.95"/><circle cx="796.9" cy="417.8" r="2.95"/><circle cx="796.9" cy="422.0" r="2.95"/><circle cx="796.9" cy="427.0" r="2.95"/><circle cx="796.9" cy="447.0" r="2.95"/><circle cx="796.9" cy="442.8" r="2.95"/><circle cx="796.9" cy="438.7" r="2.95"/><circle cx="796.9" cy="438.5" r="2.95"/><circle cx="826.0" cy="416.3" r="2.95"/><circle cx="826.0" cy="421.7" r="2.95"/><circle cx="834.4" cy="419.0" r="2.95"/><circle cx="834.4" cy="421.7" r="2.95"/><circle cx="834.4" cy="444.3" r="2.95"/><circle cx="834.4" cy="450.3" r="2.95"/><circle cx="844.8" cy="421.0" r="2.95"/><circle cx="844.8" cy="421.7" r="2.95"/><circle cx="844.8" cy="452.3" r="2.95"/><circle cx="844.8" cy="448.2" r="2.95"/><circle cx="844.8" cy="444.0" r="2.95"/><circle cx="844.8" cy="444.3" r="2.95"/><circle cx="853.1" cy="415.0" r="2.95"/><circle cx="853.1" cy="419.2" r="2.95"/><circle cx="853.1" cy="423.3" r="2.95"/><circle cx="853.1" cy="427.6" r="2.95"/><circle cx="853.1" cy="439.0" r="2.95"/><circle cx="853.1" cy="444.3" r="2.95"/><circle cx="861.5" cy="413.0" r="2.95"/><circle cx="861.5" cy="417.2" r="2.95"/><circle cx="861.5" cy="421.3" r="2.95"/><circle cx="861.5" cy="427.6" r="2.95"/><circle cx="861.5" cy="439.0" r="2.95"/><circle cx="861.5" cy="444.3" r="2.95"/><circle cx="871.9" cy="421.7" r="2.95"/><circle cx="871.9" cy="427.6" r="2.95"/><circle cx="871.9" cy="439.0" r="2.95"/><circle cx="871.9" cy="441.7" r="2.95"/><circle cx="880.2" cy="419.0" r="2.95"/><circle cx="880.2" cy="423.2" r="2.95"/><circle cx="880.2" cy="427.3" r="2.95"/><circle cx="880.2" cy="427.6" r="2.95"/><circle cx="880.2" cy="439.0" r="2.95"/><circle cx="880.2" cy="443.0" r="2.95"/><circle cx="890.6" cy="415.0" r="2.95"/><circle cx="890.6" cy="419.2" r="2.95"/><circle cx="890.6" cy="423.3" r="2.95"/><circle cx="890.6" cy="427.6" r="2.95"/><circle cx="890.6" cy="439.0" r="2.95"/><circle cx="890.6" cy="447.0" r="2.95"/><circle cx="899.0" cy="412.3" r="2.95"/><circle cx="899.0" cy="416.5" r="2.95"/><circle cx="899.0" cy="420.7" r="2.95"/><circle cx="899.0" cy="427.6" r="2.95"/><circle cx="899.0" cy="455.0" r="2.95"/><circle cx="899.0" cy="450.8" r="2.95"/><circle cx="899.0" cy="446.7" r="2.95"/><circle cx="899.0" cy="439.0" r="2.95"/><circle cx="909.4" cy="399.0" r="2.95"/><circle cx="909.4" cy="403.2" r="2.95"/><circle cx="909.4" cy="407.3" r="2.95"/><circle cx="909.4" cy="427.6" r="2.95"/><circle cx="909.4" cy="463.0" r="2.95"/><circle cx="909.4" cy="458.8" r="2.95"/><circle cx="909.4" cy="454.7" r="2.95"/><circle cx="909.4" cy="439.0" r="2.95"/><circle cx="917.7" cy="420.3" r="2.95"/><circle cx="917.7" cy="427.6" r="2.95"/><circle cx="917.7" cy="453.7" r="2.95"/><circle cx="917.7" cy="449.5" r="2.95"/><circle cx="917.7" cy="445.3" r="2.95"/><circle cx="917.7" cy="439.0" r="2.95"/><circle cx="928.1" cy="416.3" r="2.95"/><circle cx="928.1" cy="420.5" r="2.95"/><circle cx="928.1" cy="424.7" r="2.95"/><circle cx="928.1" cy="427.6" r="2.95"/><circle cx="928.1" cy="439.0" r="2.95"/><circle cx="928.1" cy="447.0" r="2.95"/><circle cx="936.5" cy="411.0" r="2.95"/><circle cx="936.5" cy="415.2" r="2.95"/><circle cx="936.5" cy="419.3" r="2.95"/><circle cx="936.5" cy="427.6" r="2.95"/><circle cx="936.5" cy="459.0" r="2.95"/><circle cx="936.5" cy="454.8" r="2.95"/><circle cx="936.5" cy="450.7" r="2.95"/><circle cx="936.5" cy="439.0" r="2.95"/><circle cx="946.9" cy="413.7" r="2.95"/><circle cx="946.9" cy="417.8" r="2.95"/><circle cx="946.9" cy="422.0" r="2.95"/><circle cx="946.9" cy="427.6" r="2.95"/><circle cx="946.9" cy="439.0" r="2.95"/><circle cx="946.9" cy="447.0" r="2.95"/><circle cx="955.2" cy="411.0" r="2.95"/><circle cx="955.2" cy="415.2" r="2.95"/><circle cx="955.2" cy="419.3" r="2.95"/><circle cx="955.2" cy="427.6" r="2.95"/><circle cx="955.2" cy="448.3" r="2.95"/><circle cx="955.2" cy="444.2" r="2.95"/><circle cx="955.2" cy="440.0" r="2.95"/><circle cx="955.2" cy="439.0" r="2.95"/><circle cx="965.6" cy="416.3" r="2.95"/><circle cx="965.6" cy="420.5" r="2.95"/><circle cx="965.6" cy="424.7" r="2.95"/><circle cx="965.6" cy="427.6" r="2.95"/><circle cx="965.6" cy="461.7" r="2.95"/><circle cx="965.6" cy="457.5" r="2.95"/><circle cx="965.6" cy="453.3" r="2.95"/><circle cx="965.6" cy="439.0" r="2.95"/><circle cx="974.0" cy="416.3" r="2.95"/><circle cx="974.0" cy="420.5" r="2.95"/><circle cx="974.0" cy="424.7" r="2.95"/><circle cx="974.0" cy="427.6" r="2.95"/><circle cx="974.0" cy="451.0" r="2.95"/><circle cx="974.0" cy="446.8" r="2.95"/><circle cx="974.0" cy="442.7" r="2.95"/><circle cx="974.0" cy="439.0" r="2.95"/><circle cx="982.3" cy="421.0" r="2.95"/><circle cx="982.3" cy="427.6" r="2.95"/><circle cx="982.3" cy="439.0" r="2.95"/><circle cx="982.3" cy="447.0" r="2.95"/><circle cx="992.7" cy="419.0" r="2.95"/><circle cx="992.7" cy="423.2" r="2.95"/><circle cx="992.7" cy="427.3" r="2.95"/><circle cx="992.7" cy="427.6" r="2.95"/><circle cx="992.7" cy="439.0" r="2.95"/><circle cx="992.7" cy="443.0" r="2.95"/><circle cx="1001.0" cy="416.3" r="2.95"/><circle cx="1001.0" cy="420.5" r="2.95"/><circle cx="1001.0" cy="424.7" r="2.95"/><circle cx="1001.0" cy="427.6" r="2.95"/><circle cx="1001.0" cy="451.0" r="2.95"/><circle cx="1001.0" cy="446.8" r="2.95"/><circle cx="1001.0" cy="442.7" r="2.95"/><circle cx="1001.0" cy="439.0" r="2.95"/><circle cx="1011.5" cy="423.0" r="2.95"/><circle cx="1011.5" cy="427.6" r="2.95"/><circle cx="1011.5" cy="439.0" r="2.95"/><circle cx="1011.5" cy="441.7" r="2.95"/><circle cx="1019.8" cy="408.3" r="2.95"/><circle cx="1019.8" cy="407.0" r="2.95"/><circle cx="1019.8" cy="421.0" r="2.95"/><circle cx="1019.8" cy="427.6" r="2.95"/><circle cx="1019.8" cy="457.7" r="2.95"/><circle cx="1019.8" cy="453.5" r="2.95"/><circle cx="1019.8" cy="449.3" r="2.95"/><circle cx="1019.8" cy="439.0" r="2.95"/><circle cx="1030.2" cy="411.0" r="2.95"/><circle cx="1030.2" cy="415.2" r="2.95"/><circle cx="1030.2" cy="419.3" r="2.95"/><circle cx="1030.2" cy="427.6" r="2.95"/><circle cx="1030.2" cy="449.7" r="2.95"/><circle cx="1030.2" cy="445.5" r="2.95"/><circle cx="1030.2" cy="441.3" r="2.95"/><circle cx="1030.2" cy="439.0" r="2.95"/><circle cx="1038.5" cy="420.3" r="2.95"/><circle cx="1038.5" cy="427.6" r="2.95"/><circle cx="1038.5" cy="439.0" r="2.95"/><circle cx="1038.5" cy="444.3" r="2.95"/><circle cx="1049.0" cy="412.3" r="2.95"/><circle cx="1049.0" cy="416.5" r="2.95"/><circle cx="1049.0" cy="420.7" r="2.95"/><circle cx="1049.0" cy="427.6" r="2.95"/><circle cx="1049.0" cy="449.7" r="2.95"/><circle cx="1049.0" cy="445.5" r="2.95"/><circle cx="1049.0" cy="441.3" r="2.95"/><circle cx="1049.0" cy="439.0" r="2.95"/><circle cx="1057.3" cy="417.7" r="2.95"/><circle cx="1057.3" cy="421.8" r="2.95"/><circle cx="1057.3" cy="426.0" r="2.95"/><circle cx="1057.3" cy="427.6" r="2.95"/><circle cx="1057.3" cy="452.3" r="2.95"/><circle cx="1057.3" cy="448.2" r="2.95"/><circle cx="1057.3" cy="444.0" r="2.95"/><circle cx="1057.3" cy="439.0" r="2.95"/><circle cx="1067.7" cy="413.0" r="2.95"/><circle cx="1067.7" cy="417.2" r="2.95"/><circle cx="1067.7" cy="421.3" r="2.95"/><circle cx="1067.7" cy="427.6" r="2.95"/><circle cx="1067.7" cy="439.0" r="2.95"/><circle cx="1067.7" cy="447.0" r="2.95"/><circle cx="1076.0" cy="417.7" r="2.95"/><circle cx="1076.0" cy="421.8" r="2.95"/><circle cx="1076.0" cy="426.0" r="2.95"/><circle cx="1076.0" cy="427.6" r="2.95"/><circle cx="1076.0" cy="439.0" r="2.95"/><circle cx="1076.0" cy="440.3" r="2.95"/><circle cx="471.9" cy="405.7" r="2.95"/><circle cx="471.9" cy="409.8" r="2.95"/><circle cx="471.9" cy="414.0" r="2.95"/><circle cx="471.9" cy="423.7" r="2.95"/><circle cx="482.3" cy="411.0" r="2.95"/><circle cx="482.3" cy="415.2" r="2.95"/><circle cx="482.3" cy="419.3" r="2.95"/><circle cx="482.3" cy="423.7" r="2.95"/><circle cx="490.6" cy="413.7" r="2.95"/><circle cx="490.6" cy="417.8" r="2.95"/><circle cx="490.6" cy="422.0" r="2.95"/><circle cx="490.6" cy="423.7" r="2.95"/><circle cx="501.0" cy="407.0" r="2.95"/><circle cx="501.0" cy="411.2" r="2.95"/><circle cx="501.0" cy="415.3" r="2.95"/><circle cx="501.0" cy="423.7" r="2.95"/><circle cx="509.4" cy="417.7" r="2.95"/><circle cx="509.4" cy="423.7" r="2.95"/><circle cx="517.7" cy="415.0" r="2.95"/><circle cx="517.7" cy="419.2" r="2.95"/><circle cx="517.7" cy="423.3" r="2.95"/><circle cx="517.7" cy="423.7" r="2.95"/><circle cx="528.1" cy="411.0" r="2.95"/><circle cx="528.1" cy="415.2" r="2.95"/><circle cx="528.1" cy="419.3" r="2.95"/><circle cx="528.1" cy="426.3" r="2.95"/><circle cx="536.5" cy="409.7" r="2.95"/><circle cx="536.5" cy="413.8" r="2.95"/><circle cx="536.5" cy="418.0" r="2.95"/><circle cx="536.5" cy="426.3" r="2.95"/><circle cx="546.9" cy="409.7" r="2.95"/><circle cx="546.9" cy="413.8" r="2.95"/><circle cx="546.9" cy="418.0" r="2.95"/><circle cx="546.9" cy="426.3" r="2.95"/><circle cx="555.2" cy="409.0" r="2.95"/><circle cx="555.2" cy="413.2" r="2.95"/><circle cx="555.2" cy="417.3" r="2.95"/><circle cx="555.2" cy="426.3" r="2.95"/><circle cx="565.6" cy="412.3" r="2.95"/><circle cx="565.6" cy="416.5" r="2.95"/><circle cx="565.6" cy="420.7" r="2.95"/><circle cx="565.6" cy="426.3" r="2.95"/><circle cx="574.0" cy="415.0" r="2.95"/><circle cx="574.0" cy="419.2" r="2.95"/><circle cx="574.0" cy="423.3" r="2.95"/><circle cx="574.0" cy="426.3" r="2.95"/><circle cx="584.4" cy="415.0" r="2.95"/><circle cx="584.4" cy="419.2" r="2.95"/><circle cx="584.4" cy="423.3" r="2.95"/><circle cx="584.4" cy="426.3" r="2.95"/><circle cx="592.7" cy="409.7" r="2.95"/><circle cx="592.7" cy="413.8" r="2.95"/><circle cx="592.7" cy="418.0" r="2.95"/><circle cx="592.7" cy="426.3" r="2.95"/><circle cx="603.1" cy="411.0" r="2.95"/><circle cx="603.1" cy="415.2" r="2.95"/><circle cx="603.1" cy="419.3" r="2.95"/><circle cx="603.1" cy="426.3" r="2.95"/><circle cx="611.5" cy="411.0" r="2.95"/><circle cx="611.5" cy="415.2" r="2.95"/><circle cx="611.5" cy="419.3" r="2.95"/><circle cx="611.5" cy="426.3" r="2.95"/><circle cx="621.9" cy="416.3" r="2.95"/><circle cx="621.9" cy="420.5" r="2.95"/><circle cx="621.9" cy="424.7" r="2.95"/><circle cx="621.9" cy="427.0" r="2.95"/><circle cx="157.3" cy="590.7" r="2.95"/><circle cx="157.3" cy="610.7" r="2.95"/><circle cx="157.3" cy="614.7" r="2.95"/><circle cx="165.6" cy="608.0" r="2.95"/><circle cx="165.6" cy="612.0" r="2.95"/><circle cx="165.6" cy="616.0" r="2.95"/><circle cx="165.6" cy="677.3" r="2.95"/><circle cx="174.0" cy="577.3" r="2.95"/><circle cx="174.0" cy="576.0" r="2.95"/><circle cx="184.4" cy="591.3" r="2.95"/><circle cx="184.4" cy="595.7" r="2.95"/><circle cx="184.4" cy="600.0" r="2.95"/><circle cx="157.3" cy="738.7" r="2.95"/><circle cx="157.3" cy="738.7" r="2.95"/></g>
<!-- labels -->
<g font-family="DejaVu Sans, Liberation Sans, sans-serif" fill="#262626">
<g font-size="31" text-anchor="end">
<text x="145.8" y="812.3">-500</text>
<text x="145.8" y="738.9">-400</text>
<text x="145.8" y="665.5">-300</text>
<text x="145.8" y="592.1">-200</text>
<text x="145.8" y="518.7">-100</text>
<text x="145.8" y="445.3">0</text>
<text x="145.8" y="371.9">100</text>
<text x="145.8" y="298.5">200</text>
<text x="145.8" y="225.1">300</text>
<text x="145.8" y="151.7">400</text>
<text x="145.8" y="78.3">500</text>
</g>
<g font-size="31" text-anchor="middle">
<text x="156.0" y="839">0</text>
<text x="342.0" y="839">2</text>
<text x="528.0" y="839">4</text>
<text x="714.0" y="839">6</text>
<text x="900.0" y="839">8</text>
<text x="1086.0" y="839">10</text>
</g>
<text x="620.9" y="880" font-size="35" text-anchor="middle">Distance</text>
<text transform="translate(60.5,433) rotate(-90)" font-size="35" text-anchor="middle">Count</text>
<text x="1027.6" y="883" font-size="29.5">10</text>
<text x="1069.3" y="869" font-size="24">5</text>
<path d="M1006.3 867.7l15.4 15.4M1021.7 867.7l-15.4 15.4" stroke="#262626" stroke-width="1.3" fill="none"/>
</g>
<!-- legend -->
<rect x="860" y="87.5" width="205" height="40" fill="#fff" stroke="#262626" stroke-width="2"/>
<circle cx="905.4" cy="107" r="3" fill="none" stroke="#B3B3B3" stroke-width="1.8"/>
<text x="942" y="118" font-family="DejaVu Sans, Liberation Sans, sans-serif" font-size="29.4" fill="#000">All Pairs</text>
</g>
</svg>
</body></html>
